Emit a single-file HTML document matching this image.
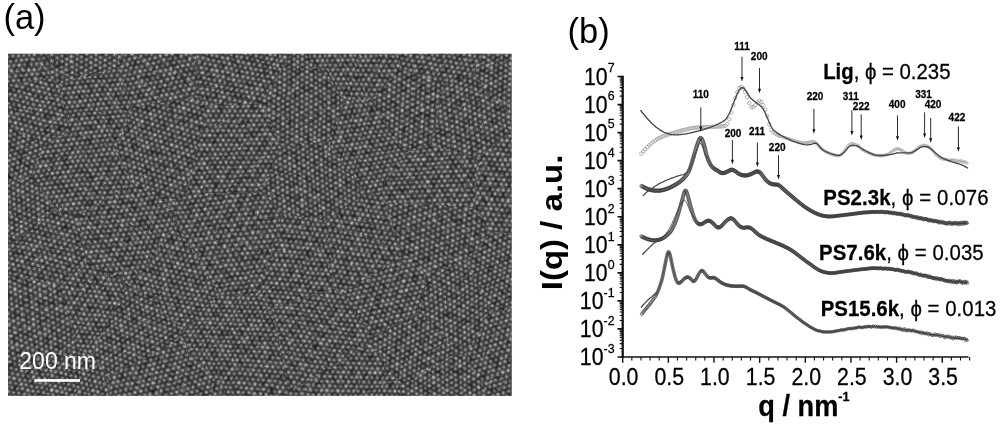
<!DOCTYPE html>
<html><head><meta charset="utf-8"><title>Figure</title>
<style>
html,body{margin:0;padding:0;background:#fff;}
body{width:1000px;height:426px;overflow:hidden;font-family:"Liberation Sans",sans-serif;}
svg{display:block;font-family:"Liberation Sans",sans-serif;}
</style></head><body>
<svg width="1000" height="426" viewBox="0 0 1000 426">
<defs>
<filter id="bl" x="0" y="40" width="520" height="370" filterUnits="userSpaceOnUse" color-interpolation-filters="sRGB"><feTurbulence type="fractalNoise" baseFrequency="0.009" numOctaves="1" seed="4" result="t1"/><feDisplacementMap in="SourceGraphic" in2="t1" scale="14" xChannelSelector="R" yChannelSelector="G" result="d1"/><feTurbulence type="fractalNoise" baseFrequency="0.11" numOctaves="1" seed="9" result="t2"/><feDisplacementMap in="d1" in2="t2" scale="1.3" xChannelSelector="R" yChannelSelector="G" result="d2"/><feTurbulence type="fractalNoise" baseFrequency="0.16" numOctaves="2" seed="21" result="t3"/><feColorMatrix in="t3" type="matrix" values="1 0 0 0 0 1 0 0 0 0 1 0 0 0 0 0 0 0 0 1" result="n"/><feComposite in="d2" in2="n" operator="arithmetic" k1="0.9" k2="0.59" k3="0.1" k4="-0.06"/></filter>
<clipPath id="semclip"><rect x="8.1" y="53.7" width="503.5" height="342.1"/></clipPath>
<radialGradient id="dg"><stop offset="0" stop-color="#959595" stop-opacity="1"/><stop offset="0.3" stop-color="#959595" stop-opacity="0.9"/><stop offset="0.6" stop-color="#959595" stop-opacity="0.4"/><stop offset="0.85" stop-color="#959595" stop-opacity="0.08"/><stop offset="1" stop-color="#959595" stop-opacity="0"/></radialGradient>
<pattern id="p0" width="5.400" height="9.353" patternUnits="userSpaceOnUse" patternTransform="translate(235.2 243.7) rotate(55.5)"><g fill="url(#dg)"><circle cx="0" cy="0" r="2.6"/><circle cx="5.400" cy="0" r="2.6"/><circle cx="0" cy="9.353" r="2.6"/><circle cx="5.400" cy="9.353" r="2.6"/><circle cx="2.700" cy="4.677" r="2.6"/></g></pattern>
<pattern id="p1" width="5.400" height="9.353" patternUnits="userSpaceOnUse" patternTransform="translate(305.4 110.6) rotate(30.7)"><g fill="url(#dg)"><circle cx="0" cy="0" r="2.6"/><circle cx="5.400" cy="0" r="2.6"/><circle cx="0" cy="9.353" r="2.6"/><circle cx="5.400" cy="9.353" r="2.6"/><circle cx="2.700" cy="4.677" r="2.6"/></g></pattern>
<pattern id="p2" width="5.400" height="9.353" patternUnits="userSpaceOnUse" patternTransform="translate(327.5 326.5) rotate(5.6)"><g fill="url(#dg)"><circle cx="0" cy="0" r="2.6"/><circle cx="5.400" cy="0" r="2.6"/><circle cx="0" cy="9.353" r="2.6"/><circle cx="5.400" cy="9.353" r="2.6"/><circle cx="2.700" cy="4.677" r="2.6"/></g></pattern>
<pattern id="p3" width="5.400" height="9.353" patternUnits="userSpaceOnUse" patternTransform="translate(157.8 77.2) rotate(48.6)"><g fill="url(#dg)"><circle cx="0" cy="0" r="2.6"/><circle cx="5.400" cy="0" r="2.6"/><circle cx="0" cy="9.353" r="2.6"/><circle cx="5.400" cy="9.353" r="2.6"/><circle cx="2.700" cy="4.677" r="2.6"/></g></pattern>
<pattern id="p4" width="5.400" height="9.353" patternUnits="userSpaceOnUse" patternTransform="translate(360.6 59.9) rotate(58.9)"><g fill="url(#dg)"><circle cx="0" cy="0" r="2.6"/><circle cx="5.400" cy="0" r="2.6"/><circle cx="0" cy="9.353" r="2.6"/><circle cx="5.400" cy="9.353" r="2.6"/><circle cx="2.700" cy="4.677" r="2.6"/></g></pattern>
<pattern id="p5" width="5.400" height="9.353" patternUnits="userSpaceOnUse" patternTransform="translate(501.7 277.1) rotate(36.9)"><g fill="url(#dg)"><circle cx="0" cy="0" r="2.6"/><circle cx="5.400" cy="0" r="2.6"/><circle cx="0" cy="9.353" r="2.6"/><circle cx="5.400" cy="9.353" r="2.6"/><circle cx="2.700" cy="4.677" r="2.6"/></g></pattern>
<pattern id="p6" width="5.400" height="9.353" patternUnits="userSpaceOnUse" patternTransform="translate(81.9 50.3) rotate(31.7)"><g fill="url(#dg)"><circle cx="0" cy="0" r="2.6"/><circle cx="5.400" cy="0" r="2.6"/><circle cx="0" cy="9.353" r="2.6"/><circle cx="5.400" cy="9.353" r="2.6"/><circle cx="2.700" cy="4.677" r="2.6"/></g></pattern>
<pattern id="p7" width="5.400" height="9.353" patternUnits="userSpaceOnUse" patternTransform="translate(31 112.5) rotate(14.5)"><g fill="url(#dg)"><circle cx="0" cy="0" r="2.6"/><circle cx="5.400" cy="0" r="2.6"/><circle cx="0" cy="9.353" r="2.6"/><circle cx="5.400" cy="9.353" r="2.6"/><circle cx="2.700" cy="4.677" r="2.6"/></g></pattern>
<pattern id="p8" width="5.400" height="9.353" patternUnits="userSpaceOnUse" patternTransform="translate(15.6 209.7) rotate(26.4)"><g fill="url(#dg)"><circle cx="0" cy="0" r="2.6"/><circle cx="5.400" cy="0" r="2.6"/><circle cx="0" cy="9.353" r="2.6"/><circle cx="5.400" cy="9.353" r="2.6"/><circle cx="2.700" cy="4.677" r="2.6"/></g></pattern>
<pattern id="p9" width="5.400" height="9.353" patternUnits="userSpaceOnUse" patternTransform="translate(438.1 229.3) rotate(38.4)"><g fill="url(#dg)"><circle cx="0" cy="0" r="2.6"/><circle cx="5.400" cy="0" r="2.6"/><circle cx="0" cy="9.353" r="2.6"/><circle cx="5.400" cy="9.353" r="2.6"/><circle cx="2.700" cy="4.677" r="2.6"/></g></pattern>
<pattern id="p10" width="5.400" height="9.353" patternUnits="userSpaceOnUse" patternTransform="translate(237.8 143.7) rotate(59.9)"><g fill="url(#dg)"><circle cx="0" cy="0" r="2.6"/><circle cx="5.400" cy="0" r="2.6"/><circle cx="0" cy="9.353" r="2.6"/><circle cx="5.400" cy="9.353" r="2.6"/><circle cx="2.700" cy="4.677" r="2.6"/></g></pattern>
<pattern id="p11" width="5.400" height="9.353" patternUnits="userSpaceOnUse" patternTransform="translate(517.8 343.3) rotate(42.5)"><g fill="url(#dg)"><circle cx="0" cy="0" r="2.6"/><circle cx="5.400" cy="0" r="2.6"/><circle cx="0" cy="9.353" r="2.6"/><circle cx="5.400" cy="9.353" r="2.6"/><circle cx="2.700" cy="4.677" r="2.6"/></g></pattern>
<pattern id="p12" width="5.400" height="9.353" patternUnits="userSpaceOnUse" patternTransform="translate(163.9 126.5) rotate(17.3)"><g fill="url(#dg)"><circle cx="0" cy="0" r="2.6"/><circle cx="5.400" cy="0" r="2.6"/><circle cx="0" cy="9.353" r="2.6"/><circle cx="5.400" cy="9.353" r="2.6"/><circle cx="2.700" cy="4.677" r="2.6"/></g></pattern>
<pattern id="p13" width="5.400" height="9.353" patternUnits="userSpaceOnUse" patternTransform="translate(36.5 317) rotate(24)"><g fill="url(#dg)"><circle cx="0" cy="0" r="2.6"/><circle cx="5.400" cy="0" r="2.6"/><circle cx="0" cy="9.353" r="2.6"/><circle cx="5.400" cy="9.353" r="2.6"/><circle cx="2.700" cy="4.677" r="2.6"/></g></pattern>
<pattern id="p14" width="5.400" height="9.353" patternUnits="userSpaceOnUse" patternTransform="translate(440.2 182.2) rotate(57.5)"><g fill="url(#dg)"><circle cx="0" cy="0" r="2.6"/><circle cx="5.400" cy="0" r="2.6"/><circle cx="0" cy="9.353" r="2.6"/><circle cx="5.400" cy="9.353" r="2.6"/><circle cx="2.700" cy="4.677" r="2.6"/></g></pattern>
<pattern id="p15" width="5.400" height="9.353" patternUnits="userSpaceOnUse" patternTransform="translate(440.6 45.2) rotate(12.6)"><g fill="url(#dg)"><circle cx="0" cy="0" r="2.6"/><circle cx="5.400" cy="0" r="2.6"/><circle cx="0" cy="9.353" r="2.6"/><circle cx="5.400" cy="9.353" r="2.6"/><circle cx="2.700" cy="4.677" r="2.6"/></g></pattern>
<pattern id="p16" width="5.400" height="9.353" patternUnits="userSpaceOnUse" patternTransform="translate(509.8 186.1) rotate(4.4)"><g fill="url(#dg)"><circle cx="0" cy="0" r="2.6"/><circle cx="5.400" cy="0" r="2.6"/><circle cx="0" cy="9.353" r="2.6"/><circle cx="5.400" cy="9.353" r="2.6"/><circle cx="2.700" cy="4.677" r="2.6"/></g></pattern>
<pattern id="p17" width="5.400" height="9.353" patternUnits="userSpaceOnUse" patternTransform="translate(172.9 387.2) rotate(45.5)"><g fill="url(#dg)"><circle cx="0" cy="0" r="2.6"/><circle cx="5.400" cy="0" r="2.6"/><circle cx="0" cy="9.353" r="2.6"/><circle cx="5.400" cy="9.353" r="2.6"/><circle cx="2.700" cy="4.677" r="2.6"/></g></pattern>
<pattern id="p18" width="5.400" height="9.353" patternUnits="userSpaceOnUse" patternTransform="translate(414.5 108.1) rotate(33.6)"><g fill="url(#dg)"><circle cx="0" cy="0" r="2.6"/><circle cx="5.400" cy="0" r="2.6"/><circle cx="0" cy="9.353" r="2.6"/><circle cx="5.400" cy="9.353" r="2.6"/><circle cx="2.700" cy="4.677" r="2.6"/></g></pattern>
<pattern id="p19" width="5.400" height="9.353" patternUnits="userSpaceOnUse" patternTransform="translate(460.1 119.8) rotate(23.7)"><g fill="url(#dg)"><circle cx="0" cy="0" r="2.6"/><circle cx="5.400" cy="0" r="2.6"/><circle cx="0" cy="9.353" r="2.6"/><circle cx="5.400" cy="9.353" r="2.6"/><circle cx="2.700" cy="4.677" r="2.6"/></g></pattern>
<pattern id="p20" width="5.400" height="9.353" patternUnits="userSpaceOnUse" patternTransform="translate(52.2 396.2) rotate(12.8)"><g fill="url(#dg)"><circle cx="0" cy="0" r="2.6"/><circle cx="5.400" cy="0" r="2.6"/><circle cx="0" cy="9.353" r="2.6"/><circle cx="5.400" cy="9.353" r="2.6"/><circle cx="2.700" cy="4.677" r="2.6"/></g></pattern>
<pattern id="p21" width="5.400" height="9.353" patternUnits="userSpaceOnUse" patternTransform="translate(134.3 319.3) rotate(19.7)"><g fill="url(#dg)"><circle cx="0" cy="0" r="2.6"/><circle cx="5.400" cy="0" r="2.6"/><circle cx="0" cy="9.353" r="2.6"/><circle cx="5.400" cy="9.353" r="2.6"/><circle cx="2.700" cy="4.677" r="2.6"/></g></pattern>
<pattern id="p22" width="5.400" height="9.353" patternUnits="userSpaceOnUse" patternTransform="translate(46.9 251.9) rotate(14.6)"><g fill="url(#dg)"><circle cx="0" cy="0" r="2.6"/><circle cx="5.400" cy="0" r="2.6"/><circle cx="0" cy="9.353" r="2.6"/><circle cx="5.400" cy="9.353" r="2.6"/><circle cx="2.700" cy="4.677" r="2.6"/></g></pattern>
<pattern id="p23" width="5.400" height="9.353" patternUnits="userSpaceOnUse" patternTransform="translate(312.7 177) rotate(27.2)"><g fill="url(#dg)"><circle cx="0" cy="0" r="2.6"/><circle cx="5.400" cy="0" r="2.6"/><circle cx="0" cy="9.353" r="2.6"/><circle cx="5.400" cy="9.353" r="2.6"/><circle cx="2.700" cy="4.677" r="2.6"/></g></pattern>
<pattern id="p24" width="5.400" height="9.353" patternUnits="userSpaceOnUse" patternTransform="translate(95.1 99.7) rotate(54.5)"><g fill="url(#dg)"><circle cx="0" cy="0" r="2.6"/><circle cx="5.400" cy="0" r="2.6"/><circle cx="0" cy="9.353" r="2.6"/><circle cx="5.400" cy="9.353" r="2.6"/><circle cx="2.700" cy="4.677" r="2.6"/></g></pattern>
<pattern id="p25" width="5.400" height="9.353" patternUnits="userSpaceOnUse" patternTransform="translate(366.4 136.2) rotate(49.4)"><g fill="url(#dg)"><circle cx="0" cy="0" r="2.6"/><circle cx="5.400" cy="0" r="2.6"/><circle cx="0" cy="9.353" r="2.6"/><circle cx="5.400" cy="9.353" r="2.6"/><circle cx="2.700" cy="4.677" r="2.6"/></g></pattern>
<pattern id="p26" width="5.400" height="9.353" patternUnits="userSpaceOnUse" patternTransform="translate(91.2 300.7) rotate(4.1)"><g fill="url(#dg)"><circle cx="0" cy="0" r="2.6"/><circle cx="5.400" cy="0" r="2.6"/><circle cx="0" cy="9.353" r="2.6"/><circle cx="5.400" cy="9.353" r="2.6"/><circle cx="2.700" cy="4.677" r="2.6"/></g></pattern>
<pattern id="p27" width="5.400" height="9.353" patternUnits="userSpaceOnUse" patternTransform="translate(118.8 243.6) rotate(51.1)"><g fill="url(#dg)"><circle cx="0" cy="0" r="2.6"/><circle cx="5.400" cy="0" r="2.6"/><circle cx="0" cy="9.353" r="2.6"/><circle cx="5.400" cy="9.353" r="2.6"/><circle cx="2.700" cy="4.677" r="2.6"/></g></pattern>
<pattern id="p28" width="5.400" height="9.353" patternUnits="userSpaceOnUse" patternTransform="translate(231.8 66.5) rotate(10.6)"><g fill="url(#dg)"><circle cx="0" cy="0" r="2.6"/><circle cx="5.400" cy="0" r="2.6"/><circle cx="0" cy="9.353" r="2.6"/><circle cx="5.400" cy="9.353" r="2.6"/><circle cx="2.700" cy="4.677" r="2.6"/></g></pattern>
<pattern id="p29" width="5.400" height="9.353" patternUnits="userSpaceOnUse" patternTransform="translate(68.4 173.6) rotate(53.5)"><g fill="url(#dg)"><circle cx="0" cy="0" r="2.6"/><circle cx="5.400" cy="0" r="2.6"/><circle cx="0" cy="9.353" r="2.6"/><circle cx="5.400" cy="9.353" r="2.6"/><circle cx="2.700" cy="4.677" r="2.6"/></g></pattern>
<pattern id="p30" width="5.400" height="9.353" patternUnits="userSpaceOnUse" patternTransform="translate(359.4 252.5) rotate(8.4)"><g fill="url(#dg)"><circle cx="0" cy="0" r="2.6"/><circle cx="5.400" cy="0" r="2.6"/><circle cx="0" cy="9.353" r="2.6"/><circle cx="5.400" cy="9.353" r="2.6"/><circle cx="2.700" cy="4.677" r="2.6"/></g></pattern>
<pattern id="p31" width="5.400" height="9.353" patternUnits="userSpaceOnUse" patternTransform="translate(18.2 51.4) rotate(54.6)"><g fill="url(#dg)"><circle cx="0" cy="0" r="2.6"/><circle cx="5.400" cy="0" r="2.6"/><circle cx="0" cy="9.353" r="2.6"/><circle cx="5.400" cy="9.353" r="2.6"/><circle cx="2.700" cy="4.677" r="2.6"/></g></pattern>
<pattern id="p32" width="5.400" height="9.353" patternUnits="userSpaceOnUse" patternTransform="translate(364.5 386.8) rotate(1.3)"><g fill="url(#dg)"><circle cx="0" cy="0" r="2.6"/><circle cx="5.400" cy="0" r="2.6"/><circle cx="0" cy="9.353" r="2.6"/><circle cx="5.400" cy="9.353" r="2.6"/><circle cx="2.700" cy="4.677" r="2.6"/></g></pattern>
<pattern id="p33" width="5.400" height="9.353" patternUnits="userSpaceOnUse" patternTransform="translate(519.7 71.7) rotate(32.8)"><g fill="url(#dg)"><circle cx="0" cy="0" r="2.6"/><circle cx="5.400" cy="0" r="2.6"/><circle cx="0" cy="9.353" r="2.6"/><circle cx="5.400" cy="9.353" r="2.6"/><circle cx="2.700" cy="4.677" r="2.6"/></g></pattern>
<pattern id="p34" width="5.400" height="9.353" patternUnits="userSpaceOnUse" patternTransform="translate(383.3 294.8) rotate(47.6)"><g fill="url(#dg)"><circle cx="0" cy="0" r="2.6"/><circle cx="5.400" cy="0" r="2.6"/><circle cx="0" cy="9.353" r="2.6"/><circle cx="5.400" cy="9.353" r="2.6"/><circle cx="2.700" cy="4.677" r="2.6"/></g></pattern>
<pattern id="p35" width="5.400" height="9.353" patternUnits="userSpaceOnUse" patternTransform="translate(411.1 351.5) rotate(34.4)"><g fill="url(#dg)"><circle cx="0" cy="0" r="2.6"/><circle cx="5.400" cy="0" r="2.6"/><circle cx="0" cy="9.353" r="2.6"/><circle cx="5.400" cy="9.353" r="2.6"/><circle cx="2.700" cy="4.677" r="2.6"/></g></pattern>
<pattern id="p36" width="5.400" height="9.353" patternUnits="userSpaceOnUse" patternTransform="translate(303 261.1) rotate(4.8)"><g fill="url(#dg)"><circle cx="0" cy="0" r="2.6"/><circle cx="5.400" cy="0" r="2.6"/><circle cx="0" cy="9.353" r="2.6"/><circle cx="5.400" cy="9.353" r="2.6"/><circle cx="2.700" cy="4.677" r="2.6"/></g></pattern>
<pattern id="p37" width="5.400" height="9.353" patternUnits="userSpaceOnUse" patternTransform="translate(457.5 303.5) rotate(23.3)"><g fill="url(#dg)"><circle cx="0" cy="0" r="2.6"/><circle cx="5.400" cy="0" r="2.6"/><circle cx="0" cy="9.353" r="2.6"/><circle cx="5.400" cy="9.353" r="2.6"/><circle cx="2.700" cy="4.677" r="2.6"/></g></pattern>
<pattern id="p38" width="5.400" height="9.353" patternUnits="userSpaceOnUse" patternTransform="translate(229.1 342.6) rotate(5)"><g fill="url(#dg)"><circle cx="0" cy="0" r="2.6"/><circle cx="5.400" cy="0" r="2.6"/><circle cx="0" cy="9.353" r="2.6"/><circle cx="5.400" cy="9.353" r="2.6"/><circle cx="2.700" cy="4.677" r="2.6"/></g></pattern>
<pattern id="p39" width="5.400" height="9.353" patternUnits="userSpaceOnUse" patternTransform="translate(5.9 151.9) rotate(40.7)"><g fill="url(#dg)"><circle cx="0" cy="0" r="2.6"/><circle cx="5.400" cy="0" r="2.6"/><circle cx="0" cy="9.353" r="2.6"/><circle cx="5.400" cy="9.353" r="2.6"/><circle cx="2.700" cy="4.677" r="2.6"/></g></pattern>
<pattern id="p40" width="5.400" height="9.353" patternUnits="userSpaceOnUse" patternTransform="translate(170 281.4) rotate(11.9)"><g fill="url(#dg)"><circle cx="0" cy="0" r="2.6"/><circle cx="5.400" cy="0" r="2.6"/><circle cx="0" cy="9.353" r="2.6"/><circle cx="5.400" cy="9.353" r="2.6"/><circle cx="2.700" cy="4.677" r="2.6"/></g></pattern>
<pattern id="p41" width="5.400" height="9.353" patternUnits="userSpaceOnUse" patternTransform="translate(436.3 393.6) rotate(27.1)"><g fill="url(#dg)"><circle cx="0" cy="0" r="2.6"/><circle cx="5.400" cy="0" r="2.6"/><circle cx="0" cy="9.353" r="2.6"/><circle cx="5.400" cy="9.353" r="2.6"/><circle cx="2.700" cy="4.677" r="2.6"/></g></pattern>
</defs>
<g clip-path="url(#semclip)"><rect x="8.1" y="53.7" width="503.5" height="342.1" fill="#3b3b3b"/><g filter="url(#bl)"><rect x="0" y="40" width="520" height="370" fill="#3b3b3b"/>
<polygon points="177.0,218.3 177.0,198.8 187.5,192.4 260.1,194.3 278.5,215.7 258.2,294.8 219.9,292.4" fill="url(#p0)"/>
<polygon points="291.3,50.7 301.3,50.7 346.0,99.4 328.2,141.7 281.2,146.9 259.9,103.2" fill="url(#p1)"/>
<polygon points="274.2,309.2 335.7,286.1 343.4,289.5 370.1,336.5 368.1,343.1 287.8,392.4" fill="url(#p2)"/>
<polygon points="124.5,50.7 191.7,50.7 198.5,97.2 132.5,105.4 118.7,66.9" fill="url(#p3)"/>
<polygon points="301.3,50.7 400.3,50.7 403.2,66.5 375.8,97.1 346.0,99.4" fill="url(#p4)"/>
<polygon points="514.6,232.4 514.6,309.0 493.8,314.1 463.0,262.4 487.4,230.0" fill="url(#p5)"/>
<polygon points="50.0,50.7 124.5,50.7 118.7,66.9 58.4,83.0 50.5,76.5" fill="url(#p6)"/>
<polygon points="50.5,76.5 58.4,83.0 68.2,131.7 42.4,147.5 5.1,123.7 5.1,86.0" fill="url(#p7)"/>
<polygon points="5.1,250.2 5.1,181.7 32.1,177.2 56.1,212.3" fill="url(#p8)"/>
<polygon points="487.4,230.0 463.0,262.4 423.5,272.8 403.1,255.7 387.7,203.5 473.7,207.3" fill="url(#p9)"/>
<polygon points="259.9,103.2 281.2,146.9 260.1,194.3 187.5,192.4 207.3,107.2" fill="url(#p10)"/>
<polygon points="514.6,309.0 514.6,398.8 495.8,398.8 467.8,353.5 493.8,314.1" fill="url(#p11)"/>
<polygon points="187.5,192.4 177.0,198.8 131.6,181.3 115.6,148.9 132.5,105.4 198.5,97.2 207.3,107.2" fill="url(#p12)"/>
<polygon points="76.2,350.3 5.1,364.4 5.1,278.6 57.3,286.9" fill="url(#p13)"/>
<polygon points="473.7,207.3 387.7,203.5 380.7,195.4 407.8,151.9 429.5,144.4 476.4,159.4" fill="url(#p14)"/>
<polygon points="400.3,50.7 482.7,50.7 474.2,76.3 445.0,83.9 403.2,66.5" fill="url(#p15)"/>
<polygon points="514.6,130.7 514.6,232.4 487.4,230.0 473.7,207.3 476.4,159.4" fill="url(#p16)"/>
<polygon points="227.9,398.8 113.1,398.8 111.5,377.2 179.9,338.3" fill="url(#p17)"/>
<polygon points="429.5,144.4 407.8,151.9 375.8,97.1 403.2,66.5 445.0,83.9" fill="url(#p18)"/>
<polygon points="514.6,126.4 514.6,130.7 476.4,159.4 429.5,144.4 445.0,83.9 474.2,76.3" fill="url(#p19)"/>
<polygon points="113.1,398.8 5.1,398.8 5.1,364.4 76.2,350.3 92.5,356.9 111.5,377.2" fill="url(#p20)"/>
<polygon points="182.3,328.7 179.9,338.3 111.5,377.2 92.5,356.9 124.9,281.8 131.1,280.5" fill="url(#p21)"/>
<polygon points="57.3,286.9 5.1,278.6 5.1,250.2 56.1,212.3 79.5,218.8 84.5,262.3" fill="url(#p22)"/>
<polygon points="278.5,215.7 260.1,194.3 281.2,146.9 328.2,141.7 368.5,194.7 325.8,221.1" fill="url(#p23)"/>
<polygon points="118.7,66.9 132.5,105.4 115.6,148.9 68.2,131.7 58.4,83.0" fill="url(#p24)"/>
<polygon points="368.5,194.7 328.2,141.7 346.0,99.4 375.8,97.1 407.8,151.9 380.7,195.4" fill="url(#p25)"/>
<polygon points="124.9,281.8 92.5,356.9 76.2,350.3 57.3,286.9 84.5,262.3" fill="url(#p26)"/>
<polygon points="177.0,198.8 177.0,218.3 131.1,280.5 124.9,281.8 84.5,262.3 79.5,218.8 131.6,181.3" fill="url(#p27)"/>
<polygon points="191.7,50.7 291.3,50.7 259.9,103.2 207.3,107.2 198.5,97.2" fill="url(#p28)"/>
<polygon points="79.5,218.8 56.1,212.3 32.1,177.2 42.4,147.5 68.2,131.7 115.6,148.9 131.6,181.3" fill="url(#p29)"/>
<polygon points="343.4,289.5 335.7,286.1 325.8,221.1 368.5,194.7 380.7,195.4 387.7,203.5 403.1,255.7" fill="url(#p30)"/>
<polygon points="5.1,50.7 50.0,50.7 50.5,76.5 5.1,86.0" fill="url(#p31)"/>
<polygon points="399.6,398.8 285.7,398.8 287.8,392.4 368.1,343.1 400.8,386.3" fill="url(#p32)"/>
<polygon points="482.7,50.7 514.6,50.7 514.6,126.4 474.2,76.3" fill="url(#p33)"/>
<polygon points="370.1,336.5 343.4,289.5 403.1,255.7 423.5,272.8 418.8,312.5" fill="url(#p34)"/>
<polygon points="400.8,386.3 368.1,343.1 370.1,336.5 418.8,312.5 459.0,351.4" fill="url(#p35)"/>
<polygon points="335.7,286.1 274.2,309.2 258.2,294.8 278.5,215.7 325.8,221.1" fill="url(#p36)"/>
<polygon points="423.5,272.8 463.0,262.4 493.8,314.1 467.8,353.5 459.0,351.4 418.8,312.5" fill="url(#p37)"/>
<polygon points="285.7,398.8 227.9,398.8 179.9,338.3 182.3,328.7 219.9,292.4 258.2,294.8 274.2,309.2 287.8,392.4" fill="url(#p38)"/>
<polygon points="5.1,181.7 5.1,123.7 42.4,147.5 32.1,177.2" fill="url(#p39)"/>
<polygon points="177.0,218.3 219.9,292.4 182.3,328.7 131.1,280.5" fill="url(#p40)"/>
<polygon points="495.8,398.8 399.6,398.8 400.8,386.3 459.0,351.4 467.8,353.5" fill="url(#p41)"/>
</g></g>
<text x="3.4" y="29" font-size="34.5" fill="#000">(a)</text>
<text x="19.3" y="369.3" font-size="23" fill="#fff">200 nm</text>
<rect x="34.3" y="379.1" width="45.7" height="2.7" fill="#fff"/>
<g id="chart">
<g fill="none" stroke="#868686" stroke-width="0.6"><circle cx="641.3" cy="153.6" r="1.75"/><circle cx="643.3" cy="151.4" r="1.75"/><circle cx="645.3" cy="149.2" r="1.75"/><circle cx="647.3" cy="147.2" r="1.75"/><circle cx="649.3" cy="145.3" r="1.75"/><circle cx="651.3" cy="143.5" r="1.75"/><circle cx="653.3" cy="141.8" r="1.75"/><circle cx="655.3" cy="140.4" r="1.75"/><circle cx="657.3" cy="139.1" r="1.75"/><circle cx="659.3" cy="138.0" r="1.75"/><circle cx="661.3" cy="137.1" r="1.75"/><circle cx="663.3" cy="136.2" r="1.75"/><circle cx="665.3" cy="135.4" r="1.75"/><circle cx="667.3" cy="134.7" r="1.75"/><circle cx="669.3" cy="134.1" r="1.75"/><circle cx="671.3" cy="133.5" r="1.75"/><circle cx="673.3" cy="133.0" r="1.75"/><circle cx="675.3" cy="132.4" r="1.75"/><circle cx="677.3" cy="131.8" r="1.75"/><circle cx="679.3" cy="131.2" r="1.75"/><circle cx="681.3" cy="130.6" r="1.75"/><circle cx="683.3" cy="130.1" r="1.75"/><circle cx="685.3" cy="129.6" r="1.75"/><circle cx="687.3" cy="129.1" r="1.75"/><circle cx="689.3" cy="128.7" r="1.75"/><circle cx="691.3" cy="128.3" r="1.75"/><circle cx="693.3" cy="128.0" r="1.75"/><circle cx="695.3" cy="127.7" r="1.75"/><circle cx="697.3" cy="127.5" r="1.75"/><circle cx="699.3" cy="127.4" r="1.75"/><circle cx="701.3" cy="127.3" r="1.75"/><circle cx="703.3" cy="127.2" r="1.75"/><circle cx="705.3" cy="127.1" r="1.75"/><circle cx="707.3" cy="127.0" r="1.75"/><circle cx="709.3" cy="126.9" r="1.75"/><circle cx="711.3" cy="126.9" r="1.75"/><circle cx="713.3" cy="126.8" r="1.75"/><circle cx="715.3" cy="126.7" r="1.75"/><circle cx="717.3" cy="126.6" r="1.75"/><circle cx="719.3" cy="126.5" r="1.75"/><circle cx="721.3" cy="126.5" r="1.75"/><circle cx="723.3" cy="126.3" r="1.75"/><circle cx="725.3" cy="125.8" r="1.75"/><circle cx="727.3" cy="123.8" r="1.75"/><circle cx="729.3" cy="119.1" r="1.75"/><circle cx="731.3" cy="112.5" r="1.75"/><circle cx="733.3" cy="105.1" r="1.75"/><circle cx="735.3" cy="98.0" r="1.75"/><circle cx="737.3" cy="92.2" r="1.75"/><circle cx="739.3" cy="88.0" r="1.75"/><circle cx="741.3" cy="87.0" r="1.75"/><circle cx="743.3" cy="88.5" r="1.75"/><circle cx="745.3" cy="92.1" r="1.75"/><circle cx="747.3" cy="97.2" r="1.75"/><circle cx="749.3" cy="103.0" r="1.75"/><circle cx="751.3" cy="107.2" r="1.75"/><circle cx="753.3" cy="107.1" r="1.75"/><circle cx="755.3" cy="105.1" r="1.75"/><circle cx="757.3" cy="102.4" r="1.75"/><circle cx="759.3" cy="100.9" r="1.75"/><circle cx="761.3" cy="102.0" r="1.75"/><circle cx="763.3" cy="105.1" r="1.75"/><circle cx="765.3" cy="109.5" r="1.75"/><circle cx="767.3" cy="116.1" r="1.75"/><circle cx="769.3" cy="124.4" r="1.75"/><circle cx="771.3" cy="129.9" r="1.75"/><circle cx="773.3" cy="132.2" r="1.75"/><circle cx="775.3" cy="133.5" r="1.75"/><circle cx="777.3" cy="134.6" r="1.75"/><circle cx="779.3" cy="135.6" r="1.75"/></g>
<g fill="none" stroke="#9a9a9a" stroke-width="0.45"><circle cx="780.1" cy="136.0" r="1.25"/><circle cx="781.0" cy="136.3" r="1.25"/><circle cx="781.9" cy="136.6" r="1.25"/><circle cx="782.8" cy="136.9" r="1.25"/><circle cx="783.7" cy="137.2" r="1.25"/><circle cx="784.6" cy="137.5" r="1.25"/><circle cx="785.5" cy="137.8" r="1.25"/><circle cx="786.4" cy="138.1" r="1.25"/><circle cx="787.3" cy="138.4" r="1.25"/><circle cx="788.2" cy="138.7" r="1.25"/><circle cx="789.1" cy="139.0" r="1.25"/><circle cx="790.0" cy="139.3" r="1.25"/><circle cx="790.9" cy="139.6" r="1.25"/><circle cx="791.8" cy="139.9" r="1.25"/><circle cx="792.7" cy="140.2" r="1.25"/><circle cx="793.6" cy="140.4" r="1.25"/><circle cx="794.5" cy="140.7" r="1.25"/><circle cx="795.4" cy="141.0" r="1.25"/><circle cx="796.3" cy="141.3" r="1.25"/><circle cx="797.2" cy="141.5" r="1.25"/><circle cx="798.1" cy="141.8" r="1.25"/><circle cx="799.0" cy="142.0" r="1.25"/><circle cx="799.9" cy="142.3" r="1.25"/><circle cx="800.8" cy="142.5" r="1.25"/><circle cx="801.7" cy="142.7" r="1.25"/><circle cx="802.6" cy="142.9" r="1.25"/><circle cx="803.5" cy="143.0" r="1.25"/><circle cx="804.4" cy="143.1" r="1.25"/><circle cx="805.3" cy="143.0" r="1.25"/><circle cx="806.2" cy="142.8" r="1.25"/><circle cx="807.1" cy="142.5" r="1.25"/><circle cx="808.0" cy="142.3" r="1.25"/><circle cx="808.9" cy="142.1" r="1.25"/><circle cx="809.8" cy="141.9" r="1.25"/><circle cx="810.7" cy="141.7" r="1.25"/><circle cx="811.6" cy="141.6" r="1.25"/><circle cx="812.5" cy="141.5" r="1.25"/><circle cx="813.4" cy="141.6" r="1.25"/><circle cx="814.3" cy="141.9" r="1.25"/><circle cx="815.2" cy="142.4" r="1.25"/><circle cx="816.1" cy="143.1" r="1.25"/><circle cx="817.0" cy="144.0" r="1.25"/><circle cx="817.9" cy="145.1" r="1.25"/><circle cx="818.8" cy="146.1" r="1.25"/><circle cx="819.7" cy="147.0" r="1.25"/><circle cx="820.6" cy="147.8" r="1.25"/><circle cx="821.5" cy="148.6" r="1.25"/><circle cx="822.4" cy="149.3" r="1.25"/><circle cx="823.3" cy="150.0" r="1.25"/><circle cx="824.2" cy="150.6" r="1.25"/><circle cx="825.1" cy="151.2" r="1.25"/><circle cx="826.0" cy="151.7" r="1.25"/><circle cx="826.9" cy="152.2" r="1.25"/><circle cx="827.8" cy="152.6" r="1.25"/><circle cx="828.7" cy="153.0" r="1.25"/><circle cx="829.6" cy="153.4" r="1.25"/><circle cx="830.5" cy="153.8" r="1.25"/><circle cx="831.4" cy="154.2" r="1.25"/><circle cx="832.3" cy="154.5" r="1.25"/><circle cx="833.2" cy="154.8" r="1.25"/><circle cx="834.1" cy="155.0" r="1.25"/><circle cx="835.0" cy="155.2" r="1.25"/><circle cx="835.9" cy="155.4" r="1.25"/><circle cx="836.8" cy="155.5" r="1.25"/><circle cx="837.7" cy="155.6" r="1.25"/><circle cx="838.6" cy="155.6" r="1.25"/><circle cx="839.5" cy="155.5" r="1.25"/><circle cx="840.4" cy="155.2" r="1.25"/><circle cx="841.3" cy="154.7" r="1.25"/><circle cx="842.2" cy="153.8" r="1.25"/><circle cx="843.1" cy="152.9" r="1.25"/><circle cx="844.0" cy="151.7" r="1.25"/><circle cx="844.9" cy="150.3" r="1.25"/><circle cx="845.8" cy="148.9" r="1.25"/><circle cx="846.7" cy="147.8" r="1.25"/><circle cx="847.6" cy="146.7" r="1.25"/><circle cx="848.5" cy="145.7" r="1.25"/><circle cx="849.4" cy="144.8" r="1.25"/><circle cx="850.3" cy="144.1" r="1.25"/><circle cx="851.2" cy="143.7" r="1.25"/><circle cx="852.1" cy="143.6" r="1.25"/><circle cx="853.0" cy="143.8" r="1.25"/><circle cx="853.9" cy="144.1" r="1.25"/><circle cx="854.8" cy="144.4" r="1.25"/><circle cx="855.7" cy="144.7" r="1.25"/><circle cx="856.6" cy="145.0" r="1.25"/><circle cx="857.5" cy="145.4" r="1.25"/><circle cx="858.4" cy="145.9" r="1.25"/><circle cx="859.3" cy="146.7" r="1.25"/><circle cx="860.2" cy="147.7" r="1.25"/><circle cx="861.1" cy="148.6" r="1.25"/><circle cx="862.0" cy="149.3" r="1.25"/><circle cx="862.9" cy="149.9" r="1.25"/><circle cx="863.8" cy="150.4" r="1.25"/><circle cx="864.7" cy="150.9" r="1.25"/><circle cx="865.6" cy="151.4" r="1.25"/><circle cx="866.5" cy="151.8" r="1.25"/><circle cx="867.4" cy="152.2" r="1.25"/><circle cx="868.3" cy="152.6" r="1.25"/><circle cx="869.2" cy="153.0" r="1.25"/><circle cx="870.1" cy="153.4" r="1.25"/><circle cx="871.0" cy="153.8" r="1.25"/><circle cx="871.9" cy="154.2" r="1.25"/><circle cx="872.8" cy="154.5" r="1.25"/><circle cx="873.7" cy="154.8" r="1.25"/><circle cx="874.6" cy="155.0" r="1.25"/><circle cx="875.5" cy="155.2" r="1.25"/><circle cx="876.4" cy="155.4" r="1.25"/><circle cx="877.3" cy="155.5" r="1.25"/><circle cx="878.2" cy="155.6" r="1.25"/><circle cx="879.1" cy="155.6" r="1.25"/><circle cx="880.0" cy="155.6" r="1.25"/><circle cx="880.9" cy="155.6" r="1.25"/><circle cx="881.8" cy="155.6" r="1.25"/><circle cx="882.7" cy="155.5" r="1.25"/><circle cx="883.6" cy="155.4" r="1.25"/><circle cx="884.5" cy="155.3" r="1.25"/><circle cx="885.4" cy="155.1" r="1.25"/><circle cx="886.3" cy="154.9" r="1.25"/><circle cx="887.2" cy="154.6" r="1.25"/><circle cx="888.1" cy="154.2" r="1.25"/><circle cx="889.0" cy="153.6" r="1.25"/><circle cx="889.9" cy="153.0" r="1.25"/><circle cx="890.8" cy="152.3" r="1.25"/><circle cx="891.7" cy="151.7" r="1.25"/><circle cx="892.6" cy="151.1" r="1.25"/><circle cx="893.5" cy="150.5" r="1.25"/><circle cx="894.4" cy="149.9" r="1.25"/><circle cx="895.3" cy="149.4" r="1.25"/><circle cx="896.2" cy="149.0" r="1.25"/><circle cx="897.1" cy="148.8" r="1.25"/><circle cx="898.0" cy="148.8" r="1.25"/><circle cx="898.9" cy="149.1" r="1.25"/><circle cx="899.8" cy="149.4" r="1.25"/><circle cx="900.7" cy="149.9" r="1.25"/><circle cx="901.6" cy="150.3" r="1.25"/><circle cx="902.5" cy="150.8" r="1.25"/><circle cx="903.4" cy="151.3" r="1.25"/><circle cx="904.3" cy="152.1" r="1.25"/><circle cx="905.2" cy="152.7" r="1.25"/><circle cx="906.1" cy="153.0" r="1.25"/><circle cx="907.0" cy="153.2" r="1.25"/><circle cx="907.9" cy="153.3" r="1.25"/><circle cx="908.8" cy="153.3" r="1.25"/><circle cx="909.7" cy="153.4" r="1.25"/><circle cx="910.6" cy="153.0" r="1.25"/><circle cx="911.5" cy="152.8" r="1.25"/><circle cx="912.4" cy="152.4" r="1.25"/><circle cx="913.3" cy="151.8" r="1.25"/><circle cx="914.2" cy="151.2" r="1.25"/><circle cx="915.1" cy="150.5" r="1.25"/><circle cx="916.0" cy="149.8" r="1.25"/><circle cx="916.9" cy="149.1" r="1.25"/><circle cx="917.8" cy="148.2" r="1.25"/><circle cx="918.7" cy="147.4" r="1.25"/><circle cx="919.6" cy="146.7" r="1.25"/><circle cx="920.5" cy="146.3" r="1.25"/><circle cx="921.4" cy="146.1" r="1.25"/><circle cx="922.3" cy="145.9" r="1.25"/><circle cx="923.2" cy="145.3" r="1.25"/><circle cx="924.1" cy="145.2" r="1.25"/><circle cx="925.0" cy="145.7" r="1.25"/><circle cx="925.9" cy="145.9" r="1.25"/><circle cx="926.8" cy="145.9" r="1.25"/><circle cx="927.7" cy="146.5" r="1.25"/><circle cx="928.6" cy="147.0" r="1.25"/><circle cx="929.5" cy="147.4" r="1.25"/><circle cx="930.4" cy="148.5" r="1.25"/><circle cx="931.3" cy="148.8" r="1.25"/><circle cx="932.2" cy="150.0" r="1.25"/><circle cx="933.1" cy="151.0" r="1.25"/><circle cx="934.0" cy="151.9" r="1.25"/><circle cx="934.9" cy="153.7" r="1.25"/><circle cx="935.8" cy="153.9" r="1.25"/><circle cx="936.7" cy="155.3" r="1.25"/><circle cx="937.6" cy="155.6" r="1.25"/><circle cx="938.5" cy="156.7" r="1.25"/><circle cx="939.4" cy="157.4" r="1.25"/><circle cx="940.3" cy="157.7" r="1.25"/><circle cx="941.2" cy="158.4" r="1.25"/><circle cx="942.1" cy="158.7" r="1.25"/><circle cx="943.0" cy="158.8" r="1.25"/><circle cx="943.9" cy="159.5" r="1.25"/><circle cx="944.8" cy="159.1" r="1.25"/><circle cx="945.7" cy="159.3" r="1.25"/><circle cx="946.6" cy="159.7" r="1.25"/><circle cx="947.5" cy="159.8" r="1.25"/><circle cx="948.4" cy="159.7" r="1.25"/><circle cx="949.3" cy="160.6" r="1.25"/><circle cx="950.2" cy="160.6" r="1.25"/><circle cx="951.1" cy="159.9" r="1.25"/><circle cx="952.0" cy="160.2" r="1.25"/><circle cx="952.9" cy="160.1" r="1.25"/><circle cx="953.8" cy="160.4" r="1.25"/><circle cx="954.7" cy="160.2" r="1.25"/><circle cx="955.6" cy="160.6" r="1.25"/><circle cx="956.5" cy="161.2" r="1.25"/><circle cx="957.4" cy="160.6" r="1.25"/><circle cx="958.3" cy="161.0" r="1.25"/><circle cx="959.2" cy="161.1" r="1.25"/><circle cx="960.1" cy="161.4" r="1.25"/><circle cx="961.0" cy="160.6" r="1.25"/><circle cx="961.9" cy="161.7" r="1.25"/><circle cx="962.8" cy="162.2" r="1.25"/><circle cx="963.7" cy="161.8" r="1.25"/><circle cx="964.6" cy="161.6" r="1.25"/><circle cx="965.5" cy="162.4" r="1.25"/><circle cx="966.4" cy="162.8" r="1.25"/><circle cx="967.3" cy="163.2" r="1.25"/></g>
<path d="M640.8 110.6 L641.3 111.2 L641.8 111.9 L642.3 112.5 L642.8 113.2 L643.3 113.8 L643.9 114.4 L644.4 115.1 L644.9 115.7 L645.4 116.4 L646.0 117.0 L646.5 117.6 L647.0 118.2 L647.6 118.8 L648.1 119.4 L648.7 120.0 L649.2 120.6 L649.8 121.2 L650.3 121.8 L650.9 122.4 L651.5 123.0 L652.0 123.5 L652.7 124.1 L653.3 124.7 L654.0 125.3 L654.6 125.9 L655.3 126.4 L655.9 127.0 L656.6 127.5 L657.3 128.0 L658.0 128.5 L658.7 129.0 L659.3 129.4 L660.0 129.9 L660.7 130.3 L661.4 130.7 L662.1 131.2 L662.8 131.6 L663.6 131.9 L664.3 132.3 L665.0 132.6 L665.8 132.9 L666.6 133.2 L667.4 133.5 L668.3 133.7 L669.1 134.0 L669.9 134.2 L670.7 134.3 L671.6 134.5 L672.4 134.6 L673.2 134.7 L674.0 134.8 L674.8 134.8 L675.6 134.8 L676.4 134.8 L677.3 134.8 L678.1 134.7 L679.0 134.7 L680.0 134.6 L680.7 134.5 L681.5 134.4 L682.3 134.3 L683.1 134.2 L684.0 134.1 L684.8 134.0 L685.7 133.8 L686.5 133.7 L687.4 133.5 L688.3 133.3 L689.1 133.2 L690.0 133.0 L690.8 132.8 L691.6 132.7 L692.4 132.5 L693.2 132.3 L694.0 132.1 L694.8 131.9 L695.6 131.7 L696.4 131.5 L697.2 131.3 L698.0 131.1 L698.8 130.9 L699.6 130.7 L700.4 130.5 L701.2 130.3 L702.1 130.0 L702.9 129.8 L703.7 129.5 L704.5 129.3 L705.3 129.0 L706.2 128.7 L706.9 128.5 L707.7 128.2 L708.5 127.9 L709.3 127.7 L710.0 127.4 L710.9 127.1 L711.7 126.7 L712.6 126.4 L713.4 126.1 L714.2 125.7 L715.0 125.4 L715.7 125.1 L716.5 124.7 L717.3 124.4 L718.0 124.0 L718.8 123.6 L719.7 123.2 L720.5 122.8 L721.3 122.4 L722.1 122.0 L722.8 121.6 L723.5 121.1 L724.2 120.7 L724.8 120.2 L725.5 119.6 L726.1 118.9 L726.6 118.2 L727.1 117.5 L727.5 116.7 L728.0 115.9 L728.5 115.0 L728.9 114.3 L729.2 113.6 L729.6 112.8 L729.9 112.0 L730.3 111.2 L730.6 110.4 L731.0 109.6 L731.3 108.7 L731.7 107.9 L732.0 107.0 L732.3 106.3 L732.6 105.5 L732.9 104.8 L733.2 104.0 L733.5 103.2 L733.8 102.5 L734.0 101.7 L734.3 100.9 L734.6 100.2 L734.9 99.4 L735.2 98.7 L735.5 98.0 L735.9 97.2 L736.2 96.3 L736.5 95.5 L736.9 94.7 L737.2 93.9 L737.6 93.1 L738.0 92.4 L738.3 91.7 L738.6 91.1 L739.0 90.5 L739.7 89.5 L740.4 88.7 L741.1 88.1 L741.8 87.7 L742.5 87.6 L743.1 87.8 L743.6 88.1 L744.2 88.7 L744.8 89.4 L745.4 90.2 L746.0 91.0 L746.4 91.6 L746.8 92.2 L747.3 92.9 L747.7 93.7 L748.2 94.4 L748.6 95.2 L749.1 96.0 L749.6 96.7 L750.1 97.4 L750.6 98.0 L751.2 98.7 L751.9 99.3 L752.6 99.9 L753.3 100.4 L754.0 101.0 L754.7 101.5 L755.3 102.0 L756.0 102.5 L756.7 103.0 L757.3 103.5 L758.0 104.0 L758.7 104.4 L759.3 104.9 L760.0 105.4 L760.5 105.9 L761.1 106.4 L761.7 107.1 L762.2 107.7 L762.7 108.4 L763.2 109.2 L763.6 109.9 L764.1 110.7 L764.5 111.5 L764.9 112.2 L765.2 113.0 L765.6 113.7 L765.9 114.5 L766.2 115.3 L766.6 116.1 L767.0 117.0 L767.4 118.0 L767.7 118.6 L768.0 119.3 L768.3 120.1 L768.6 120.8 L768.9 121.6 L769.3 122.4 L769.6 123.2 L769.9 124.0 L770.3 124.8 L770.6 125.6 L771.0 126.3 L771.3 126.9 L771.7 127.5 L772.3 128.4 L772.8 129.1 L773.4 129.8 L774.0 130.4 L774.6 130.9 L775.2 131.5 L775.9 132.0 L776.5 132.5 L777.1 133.0 L777.7 133.4 L778.4 133.8 L779.0 134.2 L779.7 134.6 L780.4 135.0 L781.2 135.5 L782.2 136.0 L782.8 136.3 L783.5 136.7 L784.1 137.0 L784.9 137.4 L785.6 137.8 L786.4 138.2 L787.2 138.6 L788.0 139.0 L788.8 139.4 L789.6 139.8 L790.4 140.2 L791.2 140.5 L792.0 140.9 L792.8 141.2 L793.6 141.5 L794.5 141.8 L795.3 142.1 L796.2 142.4 L797.1 142.7 L798.0 143.0 L798.8 143.2 L799.7 143.5 L800.5 143.7 L801.3 143.9 L802.0 144.1 L802.7 144.3 L803.3 144.4 L804.6 144.7 L805.6 144.8 L806.5 144.8 L807.2 144.8 L808.0 144.8 L809.0 144.7 L810.0 144.6 L810.9 144.4 L811.8 144.2 L812.7 143.9 L813.5 143.6 L814.3 143.3 L815.0 143.2 L815.8 143.2 L816.6 143.4 L817.5 144.0 L818.0 144.5 L818.5 145.1 L819.1 145.8 L819.6 146.6 L820.2 147.3 L820.8 148.0 L821.3 148.6 L822.0 149.2 L822.6 149.7 L823.2 150.2 L823.8 150.6 L824.5 151.0 L825.3 151.4 L826.1 151.8 L826.9 152.1 L827.8 152.4 L828.7 152.8 L829.5 153.1 L830.4 153.4 L831.3 153.8 L832.2 154.1 L833.1 154.4 L834.0 154.6 L834.9 154.8 L835.8 155.0 L836.7 155.2 L837.6 155.3 L838.4 155.3 L839.2 155.3 L840.2 155.0 L841.0 154.6 L841.7 154.1 L842.5 153.5 L843.1 153.0 L843.8 152.5 L844.4 151.9 L845.0 151.3 L845.6 150.7 L846.2 150.0 L846.8 149.3 L847.3 148.5 L847.9 147.8 L848.5 147.2 L849.2 146.6 L850.0 146.2 L850.7 145.8 L851.5 145.6 L852.3 145.5 L853.2 145.4 L854.1 145.5 L855.0 145.6 L855.8 145.7 L856.6 145.9 L857.4 146.2 L858.2 146.5 L858.9 146.9 L859.6 147.3 L860.4 147.8 L861.2 148.3 L862.0 148.8 L862.7 149.2 L863.4 149.6 L864.1 150.1 L864.9 150.5 L865.7 151.0 L866.7 151.5 L867.4 151.8 L868.1 152.2 L868.9 152.5 L869.7 152.9 L870.5 153.3 L871.3 153.6 L872.2 154.0 L873.0 154.3 L873.8 154.6 L874.5 154.8 L875.4 155.0 L876.2 155.2 L877.0 155.3 L877.9 155.4 L878.6 155.4 L879.4 155.5 L880.2 155.5 L881.0 155.5 L881.9 155.5 L882.8 155.5 L883.7 155.4 L884.6 155.3 L885.5 155.2 L886.3 155.1 L887.2 155.0 L888.1 154.9 L888.9 154.8 L889.8 154.6 L890.6 154.5 L891.4 154.3 L892.2 154.2 L893.0 154.0 L893.8 153.8 L894.6 153.6 L895.4 153.4 L896.1 153.2 L896.9 153.0 L897.8 152.9 L898.6 152.8 L899.5 152.8 L900.3 152.8 L901.3 152.8 L902.2 152.8 L903.1 152.8 L904.0 152.8 L904.9 152.8 L905.9 152.8 L906.9 152.9 L907.8 152.9 L908.8 152.9 L909.6 152.9 L910.4 152.8 L911.5 152.6 L912.4 152.3 L913.2 151.9 L914.0 151.5 L914.7 151.1 L915.4 150.6 L916.0 150.1 L916.8 149.6 L917.4 149.2 L918.1 148.8 L918.8 148.3 L919.5 147.9 L920.3 147.5 L921.0 147.2 L921.9 146.9 L922.7 146.7 L923.6 146.6 L924.4 146.5 L925.2 146.5 L926.1 146.6 L926.9 146.7 L927.7 147.0 L928.5 147.3 L929.3 147.7 L930.0 148.3 L930.8 148.9 L931.6 149.6 L932.2 150.1 L932.8 150.6 L933.5 151.2 L934.1 151.8 L934.8 152.4 L935.5 153.0 L936.1 153.5 L936.7 154.0 L937.4 154.6 L938.0 155.1 L938.7 155.6 L939.3 156.1 L940.0 156.6 L940.7 157.0 L941.4 157.4 L942.1 157.8 L942.8 158.2 L943.5 158.5 L944.2 158.9 L945.0 159.2 L945.8 159.5 L946.6 159.8 L947.4 160.2 L948.2 160.5 L949.0 160.7 L949.8 161.0 L950.6 161.3 L951.4 161.6 L952.2 161.8 L952.9 162.1 L953.7 162.3 L954.5 162.5 L955.2 162.8 L956.0 163.0 L956.9 163.3 L957.8 163.5 L958.7 163.8 L959.5 164.1 L960.4 164.3 L961.1 164.6 L962.1 165.0 L962.9 165.4 L963.7 165.8 L964.5 166.2 L965.3 166.6 L966.0 167.1 L966.8 167.5 L967.5 168.0" fill="none" stroke="#444" stroke-width="1.35" stroke-linejoin="round" stroke-linecap="round"/>
<g fill="none" stroke="#333" stroke-width="0.5"><circle cx="641.5" cy="185.9" r="1.70"/><circle cx="642.2" cy="186.3" r="1.70"/><circle cx="642.8" cy="186.6" r="1.70"/><circle cx="643.5" cy="187.0" r="1.70"/><circle cx="644.1" cy="187.4" r="1.70"/><circle cx="644.8" cy="187.7" r="1.70"/><circle cx="645.5" cy="188.1" r="1.70"/><circle cx="646.1" cy="188.4" r="1.70"/><circle cx="646.8" cy="188.6" r="1.70"/><circle cx="647.4" cy="188.9" r="1.70"/><circle cx="648.1" cy="189.1" r="1.70"/><circle cx="648.8" cy="189.4" r="1.70"/><circle cx="649.4" cy="189.6" r="1.70"/><circle cx="650.1" cy="189.7" r="1.70"/><circle cx="650.7" cy="189.9" r="1.70"/><circle cx="651.4" cy="190.1" r="1.70"/><circle cx="652.1" cy="190.2" r="1.70"/><circle cx="652.7" cy="190.3" r="1.70"/><circle cx="653.4" cy="190.4" r="1.70"/><circle cx="654.0" cy="190.5" r="1.70"/><circle cx="654.7" cy="190.6" r="1.70"/><circle cx="655.4" cy="190.7" r="1.70"/><circle cx="656.0" cy="190.7" r="1.70"/><circle cx="656.7" cy="190.7" r="1.70"/><circle cx="657.3" cy="190.7" r="1.70"/><circle cx="658.0" cy="190.7" r="1.70"/><circle cx="658.7" cy="190.7" r="1.70"/><circle cx="659.3" cy="190.6" r="1.70"/><circle cx="660.0" cy="190.6" r="1.70"/><circle cx="660.6" cy="190.5" r="1.70"/><circle cx="661.3" cy="190.4" r="1.70"/><circle cx="662.0" cy="190.2" r="1.70"/><circle cx="662.6" cy="190.1" r="1.70"/><circle cx="663.3" cy="189.9" r="1.70"/><circle cx="663.9" cy="189.7" r="1.70"/><circle cx="664.6" cy="189.6" r="1.70"/><circle cx="665.3" cy="189.4" r="1.70"/><circle cx="665.9" cy="189.1" r="1.70"/><circle cx="666.6" cy="188.9" r="1.70"/><circle cx="667.2" cy="188.7" r="1.70"/><circle cx="667.9" cy="188.4" r="1.70"/><circle cx="668.6" cy="188.2" r="1.70"/><circle cx="669.2" cy="187.9" r="1.70"/><circle cx="669.9" cy="187.6" r="1.70"/><circle cx="670.5" cy="187.3" r="1.70"/><circle cx="671.2" cy="187.0" r="1.70"/><circle cx="671.9" cy="186.6" r="1.70"/><circle cx="672.5" cy="186.3" r="1.70"/><circle cx="673.2" cy="186.0" r="1.70"/><circle cx="673.8" cy="185.6" r="1.70"/><circle cx="674.5" cy="185.2" r="1.70"/><circle cx="675.2" cy="184.9" r="1.70"/><circle cx="675.8" cy="184.5" r="1.70"/><circle cx="676.5" cy="184.1" r="1.70"/><circle cx="677.1" cy="183.7" r="1.70"/><circle cx="677.8" cy="183.3" r="1.70"/><circle cx="678.5" cy="182.8" r="1.70"/><circle cx="679.1" cy="182.4" r="1.70"/><circle cx="679.8" cy="181.9" r="1.70"/><circle cx="680.4" cy="181.3" r="1.70"/><circle cx="681.1" cy="180.8" r="1.70"/><circle cx="681.8" cy="180.2" r="1.70"/><circle cx="682.4" cy="179.6" r="1.70"/><circle cx="683.1" cy="179.0" r="1.70"/><circle cx="683.7" cy="178.4" r="1.70"/><circle cx="684.4" cy="177.7" r="1.70"/><circle cx="685.1" cy="176.9" r="1.70"/><circle cx="685.7" cy="176.1" r="1.70"/><circle cx="686.4" cy="175.3" r="1.70"/><circle cx="687.0" cy="174.4" r="1.70"/><circle cx="687.7" cy="173.4" r="1.70"/><circle cx="688.2" cy="172.4" r="1.70"/><circle cx="688.8" cy="171.4" r="1.70"/><circle cx="689.2" cy="170.3" r="1.70"/><circle cx="689.7" cy="169.3" r="1.70"/><circle cx="690.1" cy="168.2" r="1.70"/><circle cx="690.5" cy="167.1" r="1.70"/><circle cx="690.8" cy="166.0" r="1.70"/><circle cx="691.2" cy="164.9" r="1.70"/><circle cx="691.6" cy="163.8" r="1.70"/><circle cx="691.9" cy="162.7" r="1.70"/><circle cx="692.2" cy="161.6" r="1.70"/><circle cx="692.5" cy="160.5" r="1.70"/><circle cx="692.8" cy="159.4" r="1.70"/><circle cx="693.2" cy="158.3" r="1.70"/><circle cx="693.5" cy="157.2" r="1.70"/><circle cx="693.8" cy="156.1" r="1.70"/><circle cx="694.1" cy="155.0" r="1.70"/><circle cx="694.4" cy="153.9" r="1.70"/><circle cx="694.8" cy="152.8" r="1.70"/><circle cx="695.1" cy="151.7" r="1.70"/><circle cx="695.4" cy="150.6" r="1.70"/><circle cx="695.7" cy="149.5" r="1.70"/><circle cx="696.1" cy="148.4" r="1.70"/><circle cx="696.4" cy="147.3" r="1.70"/><circle cx="696.8" cy="146.2" r="1.70"/><circle cx="697.1" cy="145.1" r="1.70"/><circle cx="697.5" cy="144.0" r="1.70"/><circle cx="697.9" cy="142.9" r="1.70"/><circle cx="698.3" cy="141.8" r="1.70"/><circle cx="698.7" cy="140.8" r="1.70"/><circle cx="699.1" cy="139.7" r="1.70"/><circle cx="699.6" cy="138.7" r="1.70"/><circle cx="700.3" cy="138.0" r="1.70"/><circle cx="700.9" cy="138.1" r="1.70"/><circle cx="701.6" cy="138.5" r="1.70"/><circle cx="702.2" cy="139.5" r="1.70"/><circle cx="702.6" cy="140.5" r="1.70"/><circle cx="703.0" cy="141.6" r="1.70"/><circle cx="703.3" cy="142.7" r="1.70"/><circle cx="703.7" cy="143.8" r="1.70"/><circle cx="704.0" cy="144.9" r="1.70"/><circle cx="704.3" cy="146.0" r="1.70"/><circle cx="704.6" cy="147.1" r="1.70"/><circle cx="704.9" cy="148.2" r="1.70"/><circle cx="705.1" cy="149.4" r="1.70"/><circle cx="705.4" cy="150.5" r="1.70"/><circle cx="705.6" cy="151.6" r="1.70"/><circle cx="705.9" cy="152.7" r="1.70"/><circle cx="706.2" cy="153.8" r="1.70"/><circle cx="706.5" cy="155.0" r="1.70"/><circle cx="706.8" cy="156.0" r="1.70"/><circle cx="707.2" cy="157.1" r="1.70"/><circle cx="707.6" cy="158.2" r="1.70"/><circle cx="708.0" cy="159.3" r="1.70"/><circle cx="708.4" cy="160.4" r="1.70"/><circle cx="708.9" cy="161.4" r="1.70"/><circle cx="709.3" cy="162.5" r="1.70"/><circle cx="709.9" cy="163.5" r="1.70"/><circle cx="710.4" cy="164.5" r="1.70"/><circle cx="711.0" cy="165.5" r="1.70"/><circle cx="711.7" cy="166.3" r="1.70"/><circle cx="712.3" cy="167.0" r="1.70"/><circle cx="713.0" cy="167.7" r="1.70"/><circle cx="713.7" cy="168.2" r="1.70"/><circle cx="714.3" cy="168.8" r="1.70"/><circle cx="715.0" cy="169.2" r="1.70"/><circle cx="715.6" cy="169.6" r="1.70"/><circle cx="716.3" cy="169.9" r="1.70"/><circle cx="717.0" cy="170.2" r="1.70"/><circle cx="717.6" cy="170.6" r="1.70"/><circle cx="718.3" cy="171.1" r="1.70"/><circle cx="718.9" cy="171.6" r="1.70"/><circle cx="719.6" cy="172.1" r="1.70"/><circle cx="720.3" cy="172.6" r="1.70"/><circle cx="720.9" cy="172.9" r="1.70"/><circle cx="721.6" cy="173.0" r="1.70"/><circle cx="722.2" cy="173.1" r="1.70"/><circle cx="722.9" cy="173.1" r="1.70"/><circle cx="723.6" cy="173.0" r="1.70"/><circle cx="724.2" cy="172.9" r="1.70"/><circle cx="724.9" cy="172.7" r="1.70"/><circle cx="725.5" cy="172.5" r="1.70"/><circle cx="726.2" cy="172.2" r="1.70"/><circle cx="726.9" cy="171.9" r="1.70"/><circle cx="727.5" cy="171.6" r="1.70"/><circle cx="728.2" cy="171.3" r="1.70"/><circle cx="728.8" cy="170.9" r="1.70"/><circle cx="729.5" cy="170.5" r="1.70"/><circle cx="730.2" cy="170.3" r="1.70"/><circle cx="730.8" cy="170.0" r="1.70"/><circle cx="731.5" cy="169.9" r="1.70"/><circle cx="732.1" cy="169.9" r="1.70"/><circle cx="732.8" cy="170.0" r="1.70"/><circle cx="733.5" cy="170.2" r="1.70"/><circle cx="734.1" cy="170.5" r="1.70"/><circle cx="734.8" cy="170.9" r="1.70"/><circle cx="735.4" cy="171.3" r="1.70"/><circle cx="736.1" cy="171.8" r="1.70"/><circle cx="736.8" cy="172.3" r="1.70"/><circle cx="737.4" cy="172.9" r="1.70"/><circle cx="738.1" cy="173.4" r="1.70"/><circle cx="738.7" cy="173.7" r="1.70"/><circle cx="739.4" cy="174.1" r="1.70"/><circle cx="740.1" cy="174.4" r="1.70"/><circle cx="740.7" cy="174.6" r="1.70"/><circle cx="741.4" cy="174.9" r="1.70"/><circle cx="742.0" cy="175.1" r="1.70"/><circle cx="742.7" cy="175.2" r="1.70"/><circle cx="743.4" cy="175.4" r="1.70"/><circle cx="744.0" cy="175.4" r="1.70"/><circle cx="744.7" cy="175.5" r="1.70"/><circle cx="745.3" cy="175.5" r="1.70"/><circle cx="746.0" cy="175.4" r="1.70"/><circle cx="746.7" cy="175.4" r="1.70"/><circle cx="747.3" cy="175.3" r="1.70"/><circle cx="748.0" cy="175.1" r="1.70"/><circle cx="748.6" cy="174.9" r="1.70"/><circle cx="749.3" cy="174.7" r="1.70"/><circle cx="750.0" cy="174.5" r="1.70"/><circle cx="750.6" cy="174.3" r="1.70"/><circle cx="751.3" cy="174.0" r="1.70"/><circle cx="751.9" cy="173.6" r="1.70"/><circle cx="752.6" cy="173.3" r="1.70"/><circle cx="753.3" cy="173.0" r="1.70"/><circle cx="753.9" cy="172.6" r="1.70"/><circle cx="754.6" cy="172.3" r="1.70"/><circle cx="755.2" cy="172.0" r="1.70"/><circle cx="755.9" cy="171.6" r="1.70"/><circle cx="756.6" cy="171.4" r="1.70"/><circle cx="757.2" cy="171.3" r="1.70"/><circle cx="757.9" cy="171.4" r="1.70"/><circle cx="758.5" cy="171.6" r="1.70"/><circle cx="759.2" cy="171.9" r="1.70"/><circle cx="759.9" cy="172.4" r="1.70"/><circle cx="760.5" cy="173.0" r="1.70"/><circle cx="761.2" cy="173.8" r="1.70"/><circle cx="761.8" cy="174.6" r="1.70"/><circle cx="762.5" cy="175.5" r="1.70"/><circle cx="763.2" cy="176.4" r="1.70"/><circle cx="763.8" cy="177.3" r="1.70"/><circle cx="764.5" cy="178.2" r="1.70"/><circle cx="765.1" cy="179.1" r="1.70"/><circle cx="765.8" cy="179.8" r="1.70"/><circle cx="766.5" cy="180.5" r="1.70"/><circle cx="767.1" cy="181.2" r="1.70"/><circle cx="767.8" cy="181.8" r="1.70"/><circle cx="768.4" cy="182.3" r="1.70"/><circle cx="769.1" cy="182.8" r="1.70"/><circle cx="769.8" cy="183.2" r="1.70"/><circle cx="770.4" cy="183.5" r="1.70"/><circle cx="771.1" cy="183.8" r="1.70"/><circle cx="771.7" cy="184.0" r="1.70"/><circle cx="772.4" cy="184.2" r="1.70"/><circle cx="773.1" cy="184.3" r="1.70"/><circle cx="773.7" cy="184.4" r="1.70"/><circle cx="774.4" cy="184.5" r="1.70"/><circle cx="775.0" cy="184.5" r="1.70"/><circle cx="775.7" cy="184.6" r="1.70"/><circle cx="776.4" cy="184.6" r="1.70"/><circle cx="777.0" cy="184.7" r="1.70"/><circle cx="777.7" cy="184.7" r="1.70"/><circle cx="778.3" cy="184.9" r="1.70"/><circle cx="779.0" cy="185.3" r="1.70"/><circle cx="779.7" cy="185.8" r="1.70"/><circle cx="780.3" cy="186.3" r="1.70"/><circle cx="781.0" cy="186.9" r="1.70"/><circle cx="781.6" cy="187.5" r="1.70"/><circle cx="782.3" cy="188.1" r="1.70"/><circle cx="783.0" cy="188.7" r="1.70"/><circle cx="783.6" cy="189.3" r="1.70"/><circle cx="784.3" cy="189.9" r="1.70"/><circle cx="784.9" cy="190.4" r="1.70"/><circle cx="785.6" cy="191.0" r="1.70"/><circle cx="786.3" cy="191.6" r="1.70"/><circle cx="786.9" cy="192.2" r="1.69"/><circle cx="787.6" cy="192.7" r="1.69"/><circle cx="788.2" cy="193.3" r="1.69"/><circle cx="788.9" cy="193.9" r="1.69"/><circle cx="789.6" cy="194.5" r="1.68"/><circle cx="790.2" cy="195.0" r="1.68"/><circle cx="790.9" cy="195.6" r="1.68"/><circle cx="791.5" cy="196.2" r="1.68"/><circle cx="792.2" cy="196.7" r="1.67"/><circle cx="792.9" cy="197.3" r="1.67"/><circle cx="793.5" cy="197.8" r="1.67"/><circle cx="794.2" cy="198.4" r="1.67"/><circle cx="794.8" cy="198.9" r="1.66"/><circle cx="795.5" cy="199.5" r="1.66"/><circle cx="796.2" cy="200.0" r="1.66"/><circle cx="796.8" cy="200.6" r="1.66"/><circle cx="797.5" cy="201.1" r="1.65"/><circle cx="798.1" cy="201.7" r="1.65"/><circle cx="798.8" cy="202.2" r="1.65"/><circle cx="799.5" cy="202.7" r="1.65"/><circle cx="800.1" cy="203.3" r="1.65"/><circle cx="800.8" cy="203.8" r="1.64"/><circle cx="801.4" cy="204.3" r="1.64"/><circle cx="802.1" cy="204.8" r="1.64"/><circle cx="802.8" cy="205.4" r="1.64"/><circle cx="803.4" cy="205.9" r="1.63"/><circle cx="804.1" cy="206.3" r="1.63"/><circle cx="804.7" cy="206.8" r="1.63"/><circle cx="805.4" cy="207.3" r="1.63"/><circle cx="806.1" cy="207.7" r="1.62"/><circle cx="806.7" cy="208.2" r="1.62"/><circle cx="807.4" cy="208.6" r="1.62"/><circle cx="808.0" cy="209.0" r="1.62"/><circle cx="808.7" cy="209.4" r="1.61"/><circle cx="809.4" cy="209.8" r="1.61"/><circle cx="810.0" cy="210.2" r="1.61"/><circle cx="810.7" cy="210.6" r="1.61"/><circle cx="811.3" cy="211.0" r="1.60"/><circle cx="812.0" cy="211.3" r="1.60"/><circle cx="812.7" cy="211.7" r="1.60"/><circle cx="813.3" cy="212.0" r="1.60"/><circle cx="814.0" cy="212.4" r="1.59"/><circle cx="814.6" cy="212.7" r="1.59"/><circle cx="815.3" cy="213.1" r="1.59"/><circle cx="816.0" cy="213.4" r="1.59"/><circle cx="816.6" cy="213.7" r="1.59"/><circle cx="817.3" cy="213.9" r="1.58"/><circle cx="817.9" cy="214.2" r="1.58"/><circle cx="818.6" cy="214.5" r="1.58"/><circle cx="819.3" cy="214.7" r="1.58"/><circle cx="819.9" cy="214.9" r="1.57"/><circle cx="820.6" cy="215.1" r="1.57"/><circle cx="821.2" cy="215.3" r="1.57"/><circle cx="821.9" cy="215.4" r="1.57"/><circle cx="822.6" cy="215.6" r="1.56"/><circle cx="823.2" cy="215.8" r="1.56"/><circle cx="823.9" cy="215.9" r="1.56"/><circle cx="824.5" cy="216.0" r="1.56"/><circle cx="825.2" cy="216.1" r="1.55"/><circle cx="825.9" cy="216.2" r="1.55"/><circle cx="826.5" cy="216.3" r="1.55"/><circle cx="827.2" cy="216.4" r="1.55"/><circle cx="827.8" cy="216.5" r="1.54"/><circle cx="828.5" cy="216.5" r="1.54"/><circle cx="829.2" cy="216.5" r="1.54"/><circle cx="829.8" cy="216.5" r="1.54"/><circle cx="830.5" cy="216.5" r="1.53"/><circle cx="831.1" cy="216.4" r="1.53"/><circle cx="831.8" cy="216.4" r="1.53"/><circle cx="832.5" cy="216.4" r="1.53"/><circle cx="833.1" cy="216.3" r="1.53"/><circle cx="833.8" cy="216.3" r="1.52"/><circle cx="834.4" cy="216.2" r="1.52"/><circle cx="835.1" cy="216.1" r="1.52"/><circle cx="835.8" cy="216.0" r="1.52"/><circle cx="836.4" cy="215.9" r="1.51"/><circle cx="837.1" cy="215.9" r="1.51"/><circle cx="837.7" cy="215.8" r="1.51"/><circle cx="838.4" cy="215.7" r="1.51"/><circle cx="839.1" cy="215.6" r="1.50"/><circle cx="839.7" cy="215.5" r="1.50"/><circle cx="840.4" cy="215.5" r="1.50"/><circle cx="841.0" cy="215.4" r="1.50"/><circle cx="841.7" cy="215.3" r="1.50"/><circle cx="842.4" cy="215.2" r="1.50"/><circle cx="843.0" cy="215.2" r="1.50"/><circle cx="843.7" cy="215.1" r="1.50"/><circle cx="844.3" cy="215.0" r="1.50"/><circle cx="845.0" cy="214.9" r="1.50"/><circle cx="845.7" cy="214.8" r="1.50"/><circle cx="846.3" cy="214.7" r="1.50"/><circle cx="847.0" cy="214.7" r="1.50"/><circle cx="847.6" cy="214.6" r="1.50"/><circle cx="848.3" cy="214.4" r="1.50"/><circle cx="849.0" cy="214.5" r="1.50"/><circle cx="849.6" cy="214.3" r="1.50"/><circle cx="850.3" cy="214.2" r="1.50"/><circle cx="850.9" cy="214.1" r="1.50"/><circle cx="851.6" cy="214.1" r="1.50"/><circle cx="852.3" cy="214.0" r="1.50"/><circle cx="852.9" cy="214.0" r="1.50"/><circle cx="853.6" cy="213.9" r="1.50"/><circle cx="854.2" cy="213.7" r="1.50"/><circle cx="854.9" cy="213.7" r="1.50"/><circle cx="855.6" cy="213.5" r="1.50"/><circle cx="856.2" cy="213.4" r="1.50"/><circle cx="856.9" cy="213.4" r="1.50"/><circle cx="857.5" cy="213.4" r="1.50"/><circle cx="858.2" cy="213.2" r="1.50"/><circle cx="858.9" cy="213.2" r="1.50"/><circle cx="859.5" cy="213.0" r="1.50"/><circle cx="860.2" cy="213.1" r="1.50"/><circle cx="860.8" cy="212.9" r="1.50"/><circle cx="861.5" cy="212.7" r="1.50"/><circle cx="862.2" cy="212.8" r="1.50"/><circle cx="862.8" cy="212.6" r="1.50"/><circle cx="863.5" cy="212.6" r="1.50"/><circle cx="864.1" cy="212.4" r="1.50"/><circle cx="864.8" cy="212.6" r="1.50"/><circle cx="865.5" cy="212.4" r="1.50"/><circle cx="866.1" cy="212.6" r="1.50"/><circle cx="866.8" cy="212.3" r="1.50"/><circle cx="867.4" cy="212.1" r="1.50"/><circle cx="868.1" cy="212.3" r="1.50"/><circle cx="868.8" cy="212.3" r="1.50"/><circle cx="869.4" cy="212.3" r="1.50"/><circle cx="870.1" cy="211.9" r="1.50"/><circle cx="870.7" cy="212.2" r="1.50"/><circle cx="871.4" cy="212.2" r="1.50"/><circle cx="872.1" cy="211.9" r="1.50"/><circle cx="872.7" cy="211.9" r="1.50"/><circle cx="873.4" cy="212.0" r="1.50"/><circle cx="874.0" cy="211.8" r="1.50"/><circle cx="874.7" cy="212.1" r="1.50"/><circle cx="875.4" cy="212.0" r="1.50"/><circle cx="876.0" cy="212.1" r="1.50"/><circle cx="876.7" cy="211.9" r="1.50"/><circle cx="877.3" cy="211.9" r="1.50"/><circle cx="878.0" cy="211.7" r="1.50"/><circle cx="878.7" cy="211.8" r="1.50"/><circle cx="879.3" cy="212.1" r="1.50"/><circle cx="880.0" cy="212.3" r="1.50"/><circle cx="880.6" cy="211.7" r="1.50"/><circle cx="881.3" cy="211.7" r="1.50"/><circle cx="882.0" cy="211.7" r="1.50"/><circle cx="882.6" cy="212.0" r="1.50"/><circle cx="883.3" cy="212.3" r="1.50"/><circle cx="883.9" cy="211.9" r="1.50"/><circle cx="884.6" cy="212.2" r="1.50"/><circle cx="885.3" cy="212.2" r="1.50"/><circle cx="885.9" cy="212.5" r="1.50"/><circle cx="886.6" cy="212.0" r="1.50"/><circle cx="887.2" cy="212.0" r="1.50"/><circle cx="887.9" cy="212.4" r="1.50"/><circle cx="888.6" cy="212.4" r="1.50"/><circle cx="889.2" cy="212.4" r="1.50"/><circle cx="889.9" cy="212.8" r="1.50"/><circle cx="890.5" cy="212.8" r="1.50"/><circle cx="891.2" cy="212.4" r="1.50"/><circle cx="891.9" cy="212.9" r="1.50"/><circle cx="892.5" cy="213.2" r="1.50"/><circle cx="893.2" cy="213.4" r="1.50"/><circle cx="893.8" cy="212.6" r="1.50"/><circle cx="894.5" cy="213.4" r="1.50"/><circle cx="895.2" cy="212.8" r="1.50"/><circle cx="895.8" cy="213.5" r="1.50"/><circle cx="896.5" cy="213.5" r="1.50"/><circle cx="897.1" cy="214.0" r="1.50"/><circle cx="897.8" cy="213.8" r="1.50"/><circle cx="898.5" cy="213.3" r="1.50"/><circle cx="899.1" cy="214.0" r="1.50"/><circle cx="899.8" cy="213.7" r="1.50"/><circle cx="900.4" cy="214.5" r="1.50"/><circle cx="901.1" cy="213.7" r="1.50"/><circle cx="901.8" cy="214.2" r="1.50"/><circle cx="902.4" cy="214.7" r="1.50"/><circle cx="903.1" cy="214.2" r="1.50"/><circle cx="903.7" cy="214.9" r="1.50"/><circle cx="904.4" cy="215.1" r="1.50"/><circle cx="905.1" cy="215.3" r="1.50"/><circle cx="905.7" cy="215.6" r="1.50"/><circle cx="906.4" cy="215.2" r="1.50"/><circle cx="907.0" cy="215.0" r="1.50"/><circle cx="907.7" cy="215.3" r="1.50"/><circle cx="908.4" cy="215.6" r="1.50"/><circle cx="909.0" cy="215.3" r="1.50"/><circle cx="909.7" cy="216.2" r="1.50"/><circle cx="910.3" cy="215.6" r="1.50"/><circle cx="911.0" cy="215.7" r="1.50"/><circle cx="911.7" cy="216.9" r="1.50"/><circle cx="912.3" cy="216.9" r="1.50"/><circle cx="913.0" cy="216.4" r="1.50"/><circle cx="913.6" cy="216.6" r="1.50"/><circle cx="914.3" cy="217.4" r="1.50"/><circle cx="915.0" cy="217.3" r="1.50"/><circle cx="915.6" cy="216.9" r="1.50"/><circle cx="916.3" cy="217.3" r="1.50"/><circle cx="916.9" cy="218.0" r="1.50"/><circle cx="917.6" cy="217.0" r="1.50"/><circle cx="918.3" cy="218.5" r="1.50"/><circle cx="918.9" cy="218.1" r="1.50"/><circle cx="919.6" cy="217.7" r="1.50"/><circle cx="920.2" cy="218.7" r="1.50"/><circle cx="920.9" cy="217.8" r="1.50"/><circle cx="921.6" cy="218.4" r="1.50"/><circle cx="922.2" cy="218.8" r="1.50"/><circle cx="922.9" cy="218.5" r="1.50"/><circle cx="923.5" cy="219.5" r="1.50"/><circle cx="924.2" cy="219.4" r="1.50"/><circle cx="924.9" cy="218.8" r="1.50"/><circle cx="925.5" cy="218.9" r="1.50"/><circle cx="926.2" cy="218.9" r="1.50"/><circle cx="926.8" cy="219.8" r="1.50"/><circle cx="927.5" cy="219.3" r="1.50"/><circle cx="928.2" cy="220.0" r="1.50"/><circle cx="928.8" cy="220.5" r="1.50"/><circle cx="929.5" cy="220.8" r="1.50"/><circle cx="930.1" cy="219.7" r="1.50"/><circle cx="930.8" cy="220.2" r="1.50"/><circle cx="931.5" cy="220.4" r="1.50"/><circle cx="932.1" cy="220.5" r="1.50"/><circle cx="932.8" cy="220.7" r="1.50"/><circle cx="933.4" cy="220.9" r="1.50"/><circle cx="934.1" cy="221.5" r="1.50"/><circle cx="934.8" cy="220.8" r="1.50"/><circle cx="935.4" cy="221.0" r="1.50"/><circle cx="936.1" cy="221.2" r="1.50"/><circle cx="936.7" cy="220.9" r="1.50"/><circle cx="937.4" cy="221.8" r="1.50"/><circle cx="938.1" cy="221.6" r="1.50"/><circle cx="938.7" cy="222.5" r="1.50"/><circle cx="939.4" cy="222.5" r="1.50"/><circle cx="940.0" cy="221.6" r="1.50"/><circle cx="940.7" cy="221.7" r="1.50"/><circle cx="941.4" cy="222.7" r="1.50"/><circle cx="942.0" cy="222.5" r="1.50"/><circle cx="942.7" cy="221.6" r="1.50"/><circle cx="943.3" cy="222.8" r="1.50"/><circle cx="944.0" cy="222.4" r="1.50"/><circle cx="944.7" cy="223.2" r="1.50"/><circle cx="945.3" cy="223.2" r="1.50"/><circle cx="946.0" cy="223.6" r="1.50"/><circle cx="946.6" cy="223.3" r="1.50"/><circle cx="947.3" cy="223.8" r="1.50"/><circle cx="948.0" cy="222.7" r="1.50"/><circle cx="948.6" cy="222.9" r="1.50"/><circle cx="949.3" cy="222.4" r="1.50"/><circle cx="949.9" cy="224.0" r="1.50"/><circle cx="950.6" cy="222.7" r="1.50"/><circle cx="951.3" cy="223.5" r="1.50"/><circle cx="951.9" cy="223.5" r="1.50"/><circle cx="952.6" cy="224.1" r="1.50"/><circle cx="953.2" cy="223.3" r="1.50"/><circle cx="953.9" cy="222.9" r="1.50"/><circle cx="954.6" cy="223.4" r="1.50"/><circle cx="955.2" cy="222.7" r="1.50"/><circle cx="955.9" cy="223.2" r="1.50"/><circle cx="956.5" cy="223.8" r="1.50"/><circle cx="957.2" cy="222.7" r="1.50"/><circle cx="957.9" cy="224.5" r="1.50"/><circle cx="958.5" cy="223.5" r="1.50"/><circle cx="959.2" cy="223.0" r="1.50"/><circle cx="959.8" cy="224.1" r="1.50"/><circle cx="960.5" cy="222.6" r="1.50"/><circle cx="961.2" cy="222.9" r="1.50"/><circle cx="961.8" cy="224.2" r="1.50"/><circle cx="962.5" cy="222.7" r="1.50"/><circle cx="963.1" cy="223.7" r="1.50"/><circle cx="963.8" cy="222.3" r="1.50"/><circle cx="964.5" cy="223.2" r="1.50"/><circle cx="965.1" cy="223.4" r="1.50"/><circle cx="965.8" cy="222.5" r="1.50"/><circle cx="966.4" cy="222.7" r="1.50"/><circle cx="967.1" cy="223.1" r="1.50"/></g>
<path d="M687.0 172.5 L687.8 172.4 L688.7 171.5 L688.9 171.0 L689.2 170.5 L689.4 169.8 L689.7 169.1 L690.0 168.3 L690.3 167.5 L690.6 166.6 L690.9 165.8 L691.2 164.9 L691.5 164.0 L691.7 163.3 L692.0 162.6 L692.3 161.8 L692.5 161.0 L692.8 160.2 L693.1 159.4 L693.4 158.6 L693.7 157.8 L693.9 157.0 L694.2 156.2 L694.5 155.4 L694.7 154.7 L695.0 154.0 L695.3 153.1 L695.6 152.3 L696.0 151.4 L696.3 150.6 L696.6 149.8 L696.9 149.1 L697.2 148.4 L697.5 147.7 L697.7 147.1 L698.0 146.5 L698.5 145.5 L699.0 144.5 L699.4 143.8 L699.9 143.3 L700.3 143.2 L700.8 143.4 L701.2 144.0 L701.6 144.8 L702.1 145.8 L702.6 147.0 L702.8 147.6 L703.1 148.4 L703.4 149.2 L703.7 150.1 L704.0 151.0 L704.3 151.9 L704.5 152.8 L704.8 153.6 L705.1 154.4 L705.3 155.0 L705.5 155.5 L706.1 155.8 L706.8 156.0 L707.0 156.5 L707.3 157.1 L707.6 157.9 L707.9 158.7 L708.3 159.6 L708.6 160.5 L709.0 161.4 L709.4 162.3 L709.7 163.1 L710.1 163.9 L710.4 164.5 L711.0 165.4 L711.6 166.2 L712.2 166.9 L712.8 167.5 L713.4 168.0 L714.0 168.5 L714.7 169.0 L715.4 169.5 L716.2 169.8 L716.9 170.2 L717.6 170.6 L718.3 171.1 L719.0 171.6 L719.6 172.1 L720.3 172.6 L721.0 172.9 L721.9 173.1 L722.8 173.1 L723.7 173.0 L724.5 172.8 L725.2 172.4 L725.9 171.9 L726.6 171.3 L727.2 170.8 L728.0 170.1 L728.8 169.5 L729.5 169.0 L730.6 168.4 L731.7 168.2 L732.8 168.4 L733.9 169.0 L734.5 169.5 L735.1 170.1 L735.7 170.7 L736.3 171.3 L737.0 172.1 L737.6 172.9 L738.5 173.6 L739.2 174.0 L740.0 174.4 L740.8 174.7 L741.7 175.0 L742.5 175.2 L743.3 175.4 L744.1 175.4 L744.9 175.5 L745.7 175.5 L746.5 175.4 L747.3 175.3 L748.1 175.1 L748.9 174.8 L749.7 174.6 L750.5 174.3 L751.4 173.9 L752.3 173.5 L753.2 173.0 L754.0 172.6 L754.8 172.2 L755.6 171.8 L756.4 171.4 L757.2 171.3 L758.2 171.4 L759.1 171.9 L760.0 172.5 L760.6 173.1 L761.2 173.8 L761.8 174.6 L762.5 175.5 L763.0 176.1 L763.4 176.8 L763.9 177.5 L764.4 178.2 L765.0 178.9 L765.5 179.5 L766.2 180.2 L766.9 180.9 L767.6 181.6 L768.3 182.2 L769.0 182.7 L769.9 183.2 L770.8 183.6 L771.6 183.9 L772.5 184.2 L773.4 184.4 L774.3 184.4 L775.2 184.5 L776.0 184.6 L777.0 184.7 L777.9 184.8 L779.0 185.3 L779.5 185.7 L780.1 186.1 L780.7 186.6 L781.3 187.2 L782.0 187.8 L782.6 188.4 L783.4 189.0 L784.1 189.7 L784.7 190.2 L785.2 190.7 L785.8 191.2 L786.5 191.8 L787.1 192.3 L787.7 192.9 L788.4 193.5 L789.0 194.0 L789.7 194.6 L790.4 195.1 L791.0 195.7 L791.6 196.2 L792.3 196.8 L793.0 197.4 L793.6 197.9 L794.3 198.5 L794.9 199.0 L795.6 199.6 L796.3 200.1 L796.9 200.7 L797.6 201.2 L798.2 201.7 L798.9 202.3 L799.6 202.8 L800.3 203.4 L800.9 203.9 L801.6 204.4 L802.3 205.0 L802.9 205.5 L803.6 206.0 L804.3 206.5 L805.0 207.0 L805.7 207.5 L806.4 208.0 L807.2 208.5 L807.9 208.9 L808.7 209.4 L809.4 209.8 L810.1 210.3 L810.9 210.7 L811.6 211.1 L812.3 211.5 L813.1 211.9 L813.8 212.3 L814.6 212.7 L815.3 213.1 L816.0 213.4 L816.7 213.7 L817.5 214.0 L818.2 214.3 L819.0 214.6 L819.8 214.9 L820.6 215.1 L821.4 215.3 L822.3 215.5 L823.1 215.7 L824.0 215.9 L824.8 216.1 L825.6 216.2 L826.3 216.3 L827.2 216.4 L828.0 216.5 L828.9 216.5 L829.6 216.5 L830.4 216.5 L831.2 216.4 L832.0 216.4 L832.8 216.4 L833.6 216.3 L834.3 216.2 L835.1 216.1 L835.9 216.0 L836.7 215.9 L837.6 215.8 L838.3 215.7 L839.1 215.6 L839.9 215.5 L840.7 215.4 L841.5 215.3 L842.4 215.2 L843.3 215.1 L844.1 215.0 L845.0 214.9 L845.8 214.8 L846.6 214.7 L847.4 214.6 L848.2 214.5 L849.0 214.4 L849.8 214.3 L850.7 214.2 L851.6 214.1 L852.5 214.0 L853.4 213.9 L854.1 213.8 L854.9 213.7 L855.7 213.6 L856.5 213.5 L857.3 213.4 L858.2 213.3 L859.0 213.2 L859.8 213.1 L860.7 213.0 L861.5 212.9 L862.4 212.8 L863.2 212.7 L864.0 212.6 L864.8 212.5 L865.6 212.4 L866.4 212.4 L867.2 212.3 L868.0 212.2 L868.9 212.2 L869.7 212.1 L870.5 212.1 L871.3 212.0 L872.1 212.0 L872.9 211.9 L873.7 211.9 L874.5 211.9 L875.3 211.9 L876.1 211.9 L876.9 211.9 L877.7 211.9 L878.5 211.9 L879.3 211.9 L880.1 212.0 L881.0 212.0 L881.8 212.0 L882.6 212.1 L883.4 212.1 L884.2 212.1 L885.0 212.2 L885.8 212.3 L886.6 212.3 L887.4 212.4 L888.3 212.5 L889.1 212.5 L889.9 212.6 L890.7 212.7 L891.5 212.8 L892.3 212.9 L893.2 213.0 L894.0 213.1 L894.8 213.2 L895.6 213.3 L896.4 213.4 L897.2 213.5 L898.0 213.7 L898.8 213.8 L899.6 214.0 L900.4 214.1 L901.2 214.3 L902.0 214.4 L902.8 214.6 L903.6 214.7 L904.4 214.9 L905.2 215.0 L906.0 215.2 L906.8 215.4 L907.6 215.5 L908.5 215.7 L909.3 215.9 L910.2 216.1 L911.0 216.2 L911.8 216.4 L912.7 216.6 L913.5 216.8 L914.3 217.0 L915.2 217.1 L916.0 217.3 L916.8 217.5 L917.6 217.7 L918.4 217.8 L919.2 218.0 L920.0 218.2 L920.7 218.4 L921.5 218.5 L922.3 218.7 L923.1 218.9 L923.8 219.0 L924.6 219.2 L925.4 219.4 L926.2 219.5 L927.0 219.7 L927.8 219.9 L928.7 220.0 L929.5 220.2 L930.4 220.4 L931.2 220.5 L932.1 220.7 L932.9 220.8 L933.8 221.0 L934.7 221.1 L935.5 221.3 L936.3 221.4 L937.1 221.6 L937.9 221.7 L938.8 221.8 L939.7 222.0 L940.5 222.1 L941.4 222.3 L942.2 222.4 L943.1 222.5 L943.9 222.6 L944.7 222.7 L945.4 222.8 L946.2 222.9 L947.0 223.0 L947.9 223.1 L948.9 223.2 L949.8 223.3 L950.6 223.4 L951.5 223.4 L952.4 223.5 L953.2 223.5 L954.0 223.6 L954.8 223.6 L955.8 223.6 L956.7 223.6 L957.6 223.5 L958.4 223.5 L959.3 223.4 L960.1 223.4 L961.0 223.3 L961.8 223.3 L962.6 223.2 L963.4 223.2 L964.2 223.2 L965.0 223.1 L965.9 223.1 L966.7 223.0 L967.5 223.0" fill="none" stroke="#3a3a3a" stroke-width="0.9" stroke-linejoin="round" stroke-linecap="round"/>
<path d="M643.2 195.6 L643.8 195.0 L644.4 194.4 L645.0 193.8 L645.6 193.2 L646.2 192.6 L646.8 192.1 L647.5 191.5 L648.2 191.0 L648.8 190.5 L649.5 190.0 L650.2 189.5 L650.9 189.0 L651.7 188.5 L652.5 188.0 L653.1 187.6 L653.8 187.1 L654.5 186.6 L655.2 186.2 L655.9 185.7 L656.7 185.2 L657.4 184.7 L658.2 184.3 L659.0 183.8 L659.7 183.4 L660.4 183.1 L661.1 182.7 L661.8 182.3 L662.6 182.0 L663.3 181.6 L664.1 181.3 L664.8 180.9 L665.6 180.6 L666.3 180.3 L667.0 180.0 L667.8 179.6 L668.6 179.3 L669.5 179.0 L670.3 178.7 L671.0 178.4 L671.8 178.1 L672.6 177.8 L673.3 177.6 L674.0 177.3 L674.9 177.0 L675.7 176.7 L676.6 176.4 L677.4 176.2 L678.1 175.9 L678.9 175.7 L679.6 175.5 L680.6 175.2 L681.5 175.0 L682.4 174.8 L683.2 174.6 L684.0 174.3 L684.8 173.9 L685.6 173.4 L686.3 173.0 L687.0 172.5" fill="none" stroke="#444" stroke-width="1.25" stroke-linejoin="round" stroke-linecap="round"/>
<g fill="none" stroke="#333" stroke-width="0.5"><circle cx="641.3" cy="236.4" r="1.60"/><circle cx="642.0" cy="236.7" r="1.60"/><circle cx="642.6" cy="237.0" r="1.60"/><circle cx="643.3" cy="237.3" r="1.60"/><circle cx="643.9" cy="237.6" r="1.60"/><circle cx="644.6" cy="237.9" r="1.60"/><circle cx="645.3" cy="238.2" r="1.60"/><circle cx="645.9" cy="238.5" r="1.60"/><circle cx="646.6" cy="238.7" r="1.60"/><circle cx="647.2" cy="239.0" r="1.60"/><circle cx="647.9" cy="239.2" r="1.60"/><circle cx="648.6" cy="239.4" r="1.60"/><circle cx="649.2" cy="239.6" r="1.60"/><circle cx="649.9" cy="239.7" r="1.60"/><circle cx="650.5" cy="239.9" r="1.60"/><circle cx="651.2" cy="240.0" r="1.60"/><circle cx="651.9" cy="240.1" r="1.60"/><circle cx="652.5" cy="240.2" r="1.60"/><circle cx="653.2" cy="240.3" r="1.60"/><circle cx="653.8" cy="240.3" r="1.60"/><circle cx="654.5" cy="240.3" r="1.60"/><circle cx="655.2" cy="240.3" r="1.60"/><circle cx="655.8" cy="240.3" r="1.60"/><circle cx="656.5" cy="240.2" r="1.60"/><circle cx="657.1" cy="240.2" r="1.60"/><circle cx="657.8" cy="240.0" r="1.60"/><circle cx="658.5" cy="239.9" r="1.60"/><circle cx="659.1" cy="239.7" r="1.60"/><circle cx="659.8" cy="239.6" r="1.60"/><circle cx="660.4" cy="239.3" r="1.60"/><circle cx="661.1" cy="239.1" r="1.60"/><circle cx="661.8" cy="238.8" r="1.60"/><circle cx="662.4" cy="238.5" r="1.60"/><circle cx="663.1" cy="238.1" r="1.60"/><circle cx="663.7" cy="237.7" r="1.60"/><circle cx="664.4" cy="237.3" r="1.60"/><circle cx="665.1" cy="236.8" r="1.60"/><circle cx="665.7" cy="236.2" r="1.60"/><circle cx="666.4" cy="235.7" r="1.60"/><circle cx="667.0" cy="235.1" r="1.60"/><circle cx="667.7" cy="234.6" r="1.60"/><circle cx="668.4" cy="234.0" r="1.60"/><circle cx="669.0" cy="233.3" r="1.60"/><circle cx="669.7" cy="232.7" r="1.60"/><circle cx="670.3" cy="231.9" r="1.60"/><circle cx="671.0" cy="231.1" r="1.60"/><circle cx="671.6" cy="230.1" r="1.60"/><circle cx="672.2" cy="229.1" r="1.60"/><circle cx="672.7" cy="228.1" r="1.60"/><circle cx="673.2" cy="227.1" r="1.60"/><circle cx="673.7" cy="226.0" r="1.60"/><circle cx="674.2" cy="225.0" r="1.60"/><circle cx="674.7" cy="223.9" r="1.60"/><circle cx="675.1" cy="222.9" r="1.60"/><circle cx="675.5" cy="221.8" r="1.60"/><circle cx="676.0" cy="220.7" r="1.60"/><circle cx="676.3" cy="219.6" r="1.60"/><circle cx="676.7" cy="218.6" r="1.60"/><circle cx="677.1" cy="217.5" r="1.60"/><circle cx="677.5" cy="216.4" r="1.60"/><circle cx="677.8" cy="215.3" r="1.60"/><circle cx="678.1" cy="214.2" r="1.60"/><circle cx="678.5" cy="213.1" r="1.60"/><circle cx="678.8" cy="212.0" r="1.60"/><circle cx="679.1" cy="210.9" r="1.60"/><circle cx="679.4" cy="209.8" r="1.60"/><circle cx="679.8" cy="208.7" r="1.60"/><circle cx="680.1" cy="207.5" r="1.60"/><circle cx="680.4" cy="206.4" r="1.60"/><circle cx="680.7" cy="205.3" r="1.60"/><circle cx="681.0" cy="204.2" r="1.60"/><circle cx="681.3" cy="203.1" r="1.60"/><circle cx="681.6" cy="202.0" r="1.60"/><circle cx="681.9" cy="200.9" r="1.60"/><circle cx="682.2" cy="199.8" r="1.60"/><circle cx="682.5" cy="198.7" r="1.60"/><circle cx="682.8" cy="197.6" r="1.60"/><circle cx="683.1" cy="196.4" r="1.60"/><circle cx="683.4" cy="195.3" r="1.60"/><circle cx="683.7" cy="194.2" r="1.60"/><circle cx="684.1" cy="193.1" r="1.60"/><circle cx="684.4" cy="192.1" r="1.60"/><circle cx="684.9" cy="191.0" r="1.60"/><circle cx="685.5" cy="190.4" r="1.60"/><circle cx="686.2" cy="191.0" r="1.60"/><circle cx="686.6" cy="192.1" r="1.60"/><circle cx="687.0" cy="193.2" r="1.60"/><circle cx="687.4" cy="194.3" r="1.60"/><circle cx="687.7" cy="195.4" r="1.60"/><circle cx="688.0" cy="196.5" r="1.60"/><circle cx="688.3" cy="197.6" r="1.60"/><circle cx="688.6" cy="198.7" r="1.60"/><circle cx="688.9" cy="199.8" r="1.60"/><circle cx="689.2" cy="200.9" r="1.60"/><circle cx="689.5" cy="202.0" r="1.60"/><circle cx="689.8" cy="203.1" r="1.60"/><circle cx="690.1" cy="204.3" r="1.60"/><circle cx="690.4" cy="205.4" r="1.60"/><circle cx="690.7" cy="206.5" r="1.60"/><circle cx="691.0" cy="207.6" r="1.60"/><circle cx="691.3" cy="208.7" r="1.60"/><circle cx="691.6" cy="209.8" r="1.60"/><circle cx="692.0" cy="210.9" r="1.60"/><circle cx="692.3" cy="212.0" r="1.60"/><circle cx="692.6" cy="213.1" r="1.60"/><circle cx="692.9" cy="214.2" r="1.60"/><circle cx="693.3" cy="215.3" r="1.60"/><circle cx="693.6" cy="216.4" r="1.60"/><circle cx="694.0" cy="217.5" r="1.60"/><circle cx="694.5" cy="218.5" r="1.60"/><circle cx="695.0" cy="219.6" r="1.60"/><circle cx="695.5" cy="220.6" r="1.60"/><circle cx="696.2" cy="221.5" r="1.60"/><circle cx="696.8" cy="222.4" r="1.60"/><circle cx="697.5" cy="223.0" r="1.60"/><circle cx="698.1" cy="223.6" r="1.60"/><circle cx="698.8" cy="224.0" r="1.60"/><circle cx="699.5" cy="224.3" r="1.60"/><circle cx="700.1" cy="224.4" r="1.60"/><circle cx="700.8" cy="224.3" r="1.60"/><circle cx="701.4" cy="224.1" r="1.60"/><circle cx="702.1" cy="223.9" r="1.60"/><circle cx="702.8" cy="223.6" r="1.60"/><circle cx="703.4" cy="223.2" r="1.60"/><circle cx="704.1" cy="222.7" r="1.60"/><circle cx="704.7" cy="222.2" r="1.60"/><circle cx="705.4" cy="221.8" r="1.60"/><circle cx="706.1" cy="221.5" r="1.60"/><circle cx="706.7" cy="221.1" r="1.60"/><circle cx="707.4" cy="220.8" r="1.60"/><circle cx="708.0" cy="220.6" r="1.60"/><circle cx="708.7" cy="220.6" r="1.60"/><circle cx="709.4" cy="220.7" r="1.60"/><circle cx="710.0" cy="221.0" r="1.60"/><circle cx="710.7" cy="221.4" r="1.60"/><circle cx="711.3" cy="221.8" r="1.60"/><circle cx="712.0" cy="222.4" r="1.60"/><circle cx="712.7" cy="223.0" r="1.60"/><circle cx="713.3" cy="223.6" r="1.60"/><circle cx="714.0" cy="224.3" r="1.60"/><circle cx="714.6" cy="224.9" r="1.60"/><circle cx="715.3" cy="225.7" r="1.60"/><circle cx="716.0" cy="226.3" r="1.60"/><circle cx="716.6" cy="226.9" r="1.60"/><circle cx="717.3" cy="227.3" r="1.60"/><circle cx="717.9" cy="227.6" r="1.60"/><circle cx="718.6" cy="227.6" r="1.60"/><circle cx="719.3" cy="227.5" r="1.60"/><circle cx="719.9" cy="227.2" r="1.60"/><circle cx="720.6" cy="226.7" r="1.60"/><circle cx="721.2" cy="226.2" r="1.60"/><circle cx="721.9" cy="225.6" r="1.60"/><circle cx="722.6" cy="224.9" r="1.60"/><circle cx="723.2" cy="224.2" r="1.60"/><circle cx="723.9" cy="223.4" r="1.60"/><circle cx="724.5" cy="222.7" r="1.60"/><circle cx="725.2" cy="222.0" r="1.60"/><circle cx="725.9" cy="221.3" r="1.60"/><circle cx="726.5" cy="220.7" r="1.60"/><circle cx="727.2" cy="220.1" r="1.60"/><circle cx="727.8" cy="219.6" r="1.60"/><circle cx="728.5" cy="219.2" r="1.60"/><circle cx="729.2" cy="218.8" r="1.60"/><circle cx="729.8" cy="218.5" r="1.60"/><circle cx="730.5" cy="218.3" r="1.60"/><circle cx="731.1" cy="218.3" r="1.60"/><circle cx="731.8" cy="218.4" r="1.60"/><circle cx="732.5" cy="218.7" r="1.60"/><circle cx="733.1" cy="219.2" r="1.60"/><circle cx="733.8" cy="219.8" r="1.60"/><circle cx="734.4" cy="220.4" r="1.60"/><circle cx="735.1" cy="221.2" r="1.60"/><circle cx="735.8" cy="222.1" r="1.60"/><circle cx="736.4" cy="222.9" r="1.60"/><circle cx="737.1" cy="223.7" r="1.60"/><circle cx="737.7" cy="224.4" r="1.60"/><circle cx="738.4" cy="225.1" r="1.60"/><circle cx="739.1" cy="225.7" r="1.60"/><circle cx="739.7" cy="226.3" r="1.60"/><circle cx="740.4" cy="226.7" r="1.60"/><circle cx="741.0" cy="227.1" r="1.60"/><circle cx="741.7" cy="227.4" r="1.60"/><circle cx="742.4" cy="227.6" r="1.60"/><circle cx="743.0" cy="227.7" r="1.60"/><circle cx="743.7" cy="227.8" r="1.60"/><circle cx="744.3" cy="227.8" r="1.60"/><circle cx="745.0" cy="227.7" r="1.60"/><circle cx="745.7" cy="227.5" r="1.60"/><circle cx="746.3" cy="227.4" r="1.60"/><circle cx="747.0" cy="227.4" r="1.60"/><circle cx="747.6" cy="227.3" r="1.60"/><circle cx="748.3" cy="227.3" r="1.60"/><circle cx="749.0" cy="227.4" r="1.60"/><circle cx="749.6" cy="227.6" r="1.60"/><circle cx="750.3" cy="227.9" r="1.60"/><circle cx="750.9" cy="228.3" r="1.60"/><circle cx="751.6" cy="228.7" r="1.60"/><circle cx="752.3" cy="229.2" r="1.60"/><circle cx="752.9" cy="229.7" r="1.60"/><circle cx="753.6" cy="230.3" r="1.60"/><circle cx="754.2" cy="230.9" r="1.60"/><circle cx="754.9" cy="231.5" r="1.60"/><circle cx="755.6" cy="232.1" r="1.60"/><circle cx="756.2" cy="232.7" r="1.60"/><circle cx="756.9" cy="233.3" r="1.60"/><circle cx="757.5" cy="233.9" r="1.60"/><circle cx="758.2" cy="234.4" r="1.60"/><circle cx="758.9" cy="234.9" r="1.60"/><circle cx="759.5" cy="235.3" r="1.60"/><circle cx="760.2" cy="235.7" r="1.60"/><circle cx="760.8" cy="236.1" r="1.60"/><circle cx="761.5" cy="236.4" r="1.60"/><circle cx="762.2" cy="236.8" r="1.60"/><circle cx="762.8" cy="237.1" r="1.60"/><circle cx="763.5" cy="237.4" r="1.60"/><circle cx="764.1" cy="237.8" r="1.60"/><circle cx="764.8" cy="238.1" r="1.60"/><circle cx="765.5" cy="238.4" r="1.60"/><circle cx="766.1" cy="238.7" r="1.60"/><circle cx="766.8" cy="239.0" r="1.60"/><circle cx="767.4" cy="239.3" r="1.60"/><circle cx="768.1" cy="239.6" r="1.60"/><circle cx="768.8" cy="239.8" r="1.60"/><circle cx="769.4" cy="240.1" r="1.60"/><circle cx="770.1" cy="240.4" r="1.60"/><circle cx="770.7" cy="240.7" r="1.60"/><circle cx="771.4" cy="240.9" r="1.60"/><circle cx="772.1" cy="241.2" r="1.60"/><circle cx="772.7" cy="241.5" r="1.60"/><circle cx="773.4" cy="241.7" r="1.60"/><circle cx="774.0" cy="242.0" r="1.60"/><circle cx="774.7" cy="242.3" r="1.60"/><circle cx="775.4" cy="242.5" r="1.60"/><circle cx="776.0" cy="242.8" r="1.60"/><circle cx="776.7" cy="243.1" r="1.60"/><circle cx="777.3" cy="243.4" r="1.60"/><circle cx="778.0" cy="243.7" r="1.60"/><circle cx="778.7" cy="243.9" r="1.60"/><circle cx="779.3" cy="244.2" r="1.60"/><circle cx="780.0" cy="244.5" r="1.60"/><circle cx="780.6" cy="244.8" r="1.60"/><circle cx="781.3" cy="245.1" r="1.60"/><circle cx="782.0" cy="245.3" r="1.60"/><circle cx="782.6" cy="245.6" r="1.60"/><circle cx="783.3" cy="245.9" r="1.60"/><circle cx="783.9" cy="246.3" r="1.60"/><circle cx="784.6" cy="246.6" r="1.60"/><circle cx="785.3" cy="246.9" r="1.60"/><circle cx="785.9" cy="247.2" r="1.60"/><circle cx="786.6" cy="247.6" r="1.60"/><circle cx="787.2" cy="247.9" r="1.59"/><circle cx="787.9" cy="248.3" r="1.59"/><circle cx="788.6" cy="248.6" r="1.59"/><circle cx="789.2" cy="248.9" r="1.59"/><circle cx="789.9" cy="249.3" r="1.59"/><circle cx="790.5" cy="249.7" r="1.58"/><circle cx="791.2" cy="250.1" r="1.58"/><circle cx="791.9" cy="250.6" r="1.58"/><circle cx="792.5" cy="251.0" r="1.58"/><circle cx="793.2" cy="251.5" r="1.58"/><circle cx="793.8" cy="252.0" r="1.58"/><circle cx="794.5" cy="252.4" r="1.57"/><circle cx="795.2" cy="252.9" r="1.57"/><circle cx="795.8" cy="253.4" r="1.57"/><circle cx="796.5" cy="253.9" r="1.57"/><circle cx="797.1" cy="254.4" r="1.57"/><circle cx="797.8" cy="254.9" r="1.57"/><circle cx="798.5" cy="255.4" r="1.56"/><circle cx="799.1" cy="255.9" r="1.56"/><circle cx="799.8" cy="256.4" r="1.56"/><circle cx="800.4" cy="257.0" r="1.56"/><circle cx="801.1" cy="257.5" r="1.56"/><circle cx="801.8" cy="258.0" r="1.55"/><circle cx="802.4" cy="258.5" r="1.55"/><circle cx="803.1" cy="259.0" r="1.55"/><circle cx="803.7" cy="259.5" r="1.55"/><circle cx="804.4" cy="260.0" r="1.55"/><circle cx="805.1" cy="260.5" r="1.55"/><circle cx="805.7" cy="261.0" r="1.54"/><circle cx="806.4" cy="261.5" r="1.54"/><circle cx="807.0" cy="262.0" r="1.54"/><circle cx="807.7" cy="262.4" r="1.54"/><circle cx="808.4" cy="262.9" r="1.54"/><circle cx="809.0" cy="263.3" r="1.53"/><circle cx="809.7" cy="263.8" r="1.53"/><circle cx="810.3" cy="264.3" r="1.53"/><circle cx="811.0" cy="264.7" r="1.53"/><circle cx="811.7" cy="265.2" r="1.53"/><circle cx="812.3" cy="265.7" r="1.53"/><circle cx="813.0" cy="266.2" r="1.52"/><circle cx="813.6" cy="266.7" r="1.52"/><circle cx="814.3" cy="267.2" r="1.52"/><circle cx="815.0" cy="267.6" r="1.52"/><circle cx="815.6" cy="268.1" r="1.52"/><circle cx="816.3" cy="268.5" r="1.51"/><circle cx="816.9" cy="268.9" r="1.51"/><circle cx="817.6" cy="269.4" r="1.51"/><circle cx="818.3" cy="269.7" r="1.51"/><circle cx="818.9" cy="270.1" r="1.51"/><circle cx="819.6" cy="270.4" r="1.51"/><circle cx="820.2" cy="270.7" r="1.50"/><circle cx="820.9" cy="271.0" r="1.50"/><circle cx="821.6" cy="271.2" r="1.50"/><circle cx="822.2" cy="271.5" r="1.50"/><circle cx="822.9" cy="271.7" r="1.50"/><circle cx="823.5" cy="271.9" r="1.49"/><circle cx="824.2" cy="272.1" r="1.49"/><circle cx="824.9" cy="272.2" r="1.49"/><circle cx="825.5" cy="272.4" r="1.49"/><circle cx="826.2" cy="272.5" r="1.49"/><circle cx="826.8" cy="272.7" r="1.49"/><circle cx="827.5" cy="272.8" r="1.48"/><circle cx="828.2" cy="272.9" r="1.48"/><circle cx="828.8" cy="273.0" r="1.48"/><circle cx="829.5" cy="273.1" r="1.48"/><circle cx="830.1" cy="273.1" r="1.48"/><circle cx="830.8" cy="273.1" r="1.48"/><circle cx="831.5" cy="273.1" r="1.47"/><circle cx="832.1" cy="273.1" r="1.47"/><circle cx="832.8" cy="273.1" r="1.47"/><circle cx="833.4" cy="273.0" r="1.47"/><circle cx="834.1" cy="273.0" r="1.47"/><circle cx="834.8" cy="272.9" r="1.46"/><circle cx="835.4" cy="272.8" r="1.46"/><circle cx="836.1" cy="272.7" r="1.46"/><circle cx="836.7" cy="272.6" r="1.46"/><circle cx="837.4" cy="272.5" r="1.46"/><circle cx="838.1" cy="272.4" r="1.46"/><circle cx="838.7" cy="272.3" r="1.45"/><circle cx="839.4" cy="272.2" r="1.45"/><circle cx="840.0" cy="272.1" r="1.45"/><circle cx="840.7" cy="272.0" r="1.45"/><circle cx="841.4" cy="271.9" r="1.45"/><circle cx="842.0" cy="271.8" r="1.45"/><circle cx="842.7" cy="271.7" r="1.45"/><circle cx="843.3" cy="271.6" r="1.45"/><circle cx="844.0" cy="271.6" r="1.45"/><circle cx="844.7" cy="271.4" r="1.45"/><circle cx="845.3" cy="271.3" r="1.45"/><circle cx="846.0" cy="271.3" r="1.45"/><circle cx="846.6" cy="271.2" r="1.45"/><circle cx="847.3" cy="271.1" r="1.45"/><circle cx="848.0" cy="271.0" r="1.45"/><circle cx="848.6" cy="271.0" r="1.45"/><circle cx="849.3" cy="270.9" r="1.45"/><circle cx="849.9" cy="270.7" r="1.45"/><circle cx="850.6" cy="270.7" r="1.45"/><circle cx="851.3" cy="270.6" r="1.45"/><circle cx="851.9" cy="270.5" r="1.45"/><circle cx="852.6" cy="270.4" r="1.45"/><circle cx="853.2" cy="270.4" r="1.45"/><circle cx="853.9" cy="270.1" r="1.45"/><circle cx="854.6" cy="270.1" r="1.45"/><circle cx="855.2" cy="270.1" r="1.45"/><circle cx="855.9" cy="270.0" r="1.45"/><circle cx="856.5" cy="270.0" r="1.45"/><circle cx="857.2" cy="269.8" r="1.45"/><circle cx="857.9" cy="269.7" r="1.45"/><circle cx="858.5" cy="269.8" r="1.45"/><circle cx="859.2" cy="269.5" r="1.45"/><circle cx="859.8" cy="269.5" r="1.45"/><circle cx="860.5" cy="269.4" r="1.45"/><circle cx="861.2" cy="269.4" r="1.45"/><circle cx="861.8" cy="269.1" r="1.45"/><circle cx="862.5" cy="269.3" r="1.45"/><circle cx="863.1" cy="269.1" r="1.45"/><circle cx="863.8" cy="269.0" r="1.45"/><circle cx="864.5" cy="268.9" r="1.45"/><circle cx="865.1" cy="269.1" r="1.45"/><circle cx="865.8" cy="269.0" r="1.45"/><circle cx="866.4" cy="268.8" r="1.45"/><circle cx="867.1" cy="268.6" r="1.45"/><circle cx="867.8" cy="268.9" r="1.45"/><circle cx="868.4" cy="268.4" r="1.45"/><circle cx="869.1" cy="268.3" r="1.45"/><circle cx="869.7" cy="268.5" r="1.45"/><circle cx="870.4" cy="268.5" r="1.45"/><circle cx="871.1" cy="268.2" r="1.45"/><circle cx="871.7" cy="268.2" r="1.45"/><circle cx="872.4" cy="268.1" r="1.45"/><circle cx="873.0" cy="268.2" r="1.45"/><circle cx="873.7" cy="268.1" r="1.45"/><circle cx="874.4" cy="268.1" r="1.45"/><circle cx="875.0" cy="268.1" r="1.45"/><circle cx="875.7" cy="268.2" r="1.45"/><circle cx="876.3" cy="268.1" r="1.45"/><circle cx="877.0" cy="268.5" r="1.45"/><circle cx="877.7" cy="268.2" r="1.45"/><circle cx="878.3" cy="268.1" r="1.45"/><circle cx="879.0" cy="268.4" r="1.45"/><circle cx="879.6" cy="268.5" r="1.45"/><circle cx="880.3" cy="268.3" r="1.45"/><circle cx="881.0" cy="268.0" r="1.45"/><circle cx="881.6" cy="268.5" r="1.45"/><circle cx="882.3" cy="268.6" r="1.45"/><circle cx="882.9" cy="268.8" r="1.45"/><circle cx="883.6" cy="268.7" r="1.45"/><circle cx="884.3" cy="268.6" r="1.45"/><circle cx="884.9" cy="268.5" r="1.45"/><circle cx="885.6" cy="268.4" r="1.45"/><circle cx="886.2" cy="268.3" r="1.45"/><circle cx="886.9" cy="269.0" r="1.45"/><circle cx="887.6" cy="268.8" r="1.45"/><circle cx="888.2" cy="268.7" r="1.45"/><circle cx="888.9" cy="268.6" r="1.45"/><circle cx="889.5" cy="268.8" r="1.45"/><circle cx="890.2" cy="269.3" r="1.45"/><circle cx="890.9" cy="268.9" r="1.45"/><circle cx="891.5" cy="268.8" r="1.45"/><circle cx="892.2" cy="269.1" r="1.45"/><circle cx="892.8" cy="269.2" r="1.45"/><circle cx="893.5" cy="269.6" r="1.45"/><circle cx="894.2" cy="269.6" r="1.45"/><circle cx="894.8" cy="269.6" r="1.45"/><circle cx="895.5" cy="270.1" r="1.45"/><circle cx="896.1" cy="270.1" r="1.45"/><circle cx="896.8" cy="269.5" r="1.45"/><circle cx="897.5" cy="269.7" r="1.45"/><circle cx="898.1" cy="270.0" r="1.45"/><circle cx="898.8" cy="269.8" r="1.45"/><circle cx="899.4" cy="270.6" r="1.45"/><circle cx="900.1" cy="270.7" r="1.45"/><circle cx="900.8" cy="270.4" r="1.45"/><circle cx="901.4" cy="271.1" r="1.45"/><circle cx="902.1" cy="270.9" r="1.45"/><circle cx="902.7" cy="270.7" r="1.45"/><circle cx="903.4" cy="271.2" r="1.45"/><circle cx="904.1" cy="271.4" r="1.45"/><circle cx="904.7" cy="271.6" r="1.45"/><circle cx="905.4" cy="272.0" r="1.45"/><circle cx="906.0" cy="272.1" r="1.45"/><circle cx="906.7" cy="271.6" r="1.45"/><circle cx="907.4" cy="271.8" r="1.45"/><circle cx="908.0" cy="271.5" r="1.45"/><circle cx="908.7" cy="272.0" r="1.45"/><circle cx="909.3" cy="271.9" r="1.45"/><circle cx="910.0" cy="272.0" r="1.45"/><circle cx="910.7" cy="272.9" r="1.45"/><circle cx="911.3" cy="272.1" r="1.45"/><circle cx="912.0" cy="272.4" r="1.45"/><circle cx="912.6" cy="273.2" r="1.45"/><circle cx="913.3" cy="273.2" r="1.45"/><circle cx="914.0" cy="273.2" r="1.45"/><circle cx="914.6" cy="273.8" r="1.45"/><circle cx="915.3" cy="273.2" r="1.45"/><circle cx="915.9" cy="273.3" r="1.45"/><circle cx="916.6" cy="273.9" r="1.45"/><circle cx="917.3" cy="273.5" r="1.45"/><circle cx="917.9" cy="274.4" r="1.45"/><circle cx="918.6" cy="274.9" r="1.45"/><circle cx="919.2" cy="274.9" r="1.45"/><circle cx="919.9" cy="275.1" r="1.45"/><circle cx="920.6" cy="274.2" r="1.45"/><circle cx="921.2" cy="274.8" r="1.45"/><circle cx="921.9" cy="275.7" r="1.45"/><circle cx="922.5" cy="275.7" r="1.45"/><circle cx="923.2" cy="275.5" r="1.45"/><circle cx="923.9" cy="275.8" r="1.45"/><circle cx="924.5" cy="275.4" r="1.45"/><circle cx="925.2" cy="275.5" r="1.45"/><circle cx="925.8" cy="275.4" r="1.45"/><circle cx="926.5" cy="276.8" r="1.45"/><circle cx="927.2" cy="276.0" r="1.45"/><circle cx="927.8" cy="277.2" r="1.45"/><circle cx="928.5" cy="275.9" r="1.45"/><circle cx="929.1" cy="277.2" r="1.45"/><circle cx="929.8" cy="277.0" r="1.45"/><circle cx="930.5" cy="276.4" r="1.45"/><circle cx="931.1" cy="277.5" r="1.45"/><circle cx="931.8" cy="277.7" r="1.45"/><circle cx="932.4" cy="277.8" r="1.45"/><circle cx="933.1" cy="278.0" r="1.45"/><circle cx="933.8" cy="278.1" r="1.45"/><circle cx="934.4" cy="278.4" r="1.45"/><circle cx="935.1" cy="277.9" r="1.45"/><circle cx="935.7" cy="279.0" r="1.45"/><circle cx="936.4" cy="278.4" r="1.45"/><circle cx="937.1" cy="278.1" r="1.45"/><circle cx="937.7" cy="279.5" r="1.45"/><circle cx="938.4" cy="278.4" r="1.45"/><circle cx="939.0" cy="278.8" r="1.45"/><circle cx="939.7" cy="279.4" r="1.45"/><circle cx="940.4" cy="279.7" r="1.45"/><circle cx="941.0" cy="279.0" r="1.45"/><circle cx="941.7" cy="278.7" r="1.45"/><circle cx="942.3" cy="279.7" r="1.45"/><circle cx="943.0" cy="279.9" r="1.45"/><circle cx="943.7" cy="280.3" r="1.45"/><circle cx="944.3" cy="279.6" r="1.45"/><circle cx="945.0" cy="280.7" r="1.45"/><circle cx="945.6" cy="280.7" r="1.45"/><circle cx="946.3" cy="281.0" r="1.45"/><circle cx="947.0" cy="281.0" r="1.45"/><circle cx="947.6" cy="280.9" r="1.45"/><circle cx="948.3" cy="280.8" r="1.45"/><circle cx="948.9" cy="281.5" r="1.45"/><circle cx="949.6" cy="280.4" r="1.45"/><circle cx="950.3" cy="281.4" r="1.45"/><circle cx="950.9" cy="281.7" r="1.45"/><circle cx="951.6" cy="281.8" r="1.45"/><circle cx="952.2" cy="280.6" r="1.45"/><circle cx="952.9" cy="281.1" r="1.45"/><circle cx="953.6" cy="282.4" r="1.45"/><circle cx="954.2" cy="282.2" r="1.45"/><circle cx="954.9" cy="281.0" r="1.45"/><circle cx="955.5" cy="281.8" r="1.45"/><circle cx="956.2" cy="282.5" r="1.45"/><circle cx="956.9" cy="282.6" r="1.45"/><circle cx="957.5" cy="282.0" r="1.45"/><circle cx="958.2" cy="281.2" r="1.45"/><circle cx="958.8" cy="281.5" r="1.45"/><circle cx="959.5" cy="281.1" r="1.45"/><circle cx="960.2" cy="281.5" r="1.45"/><circle cx="960.8" cy="281.3" r="1.45"/><circle cx="961.5" cy="282.6" r="1.45"/><circle cx="962.1" cy="282.7" r="1.45"/><circle cx="962.8" cy="282.2" r="1.45"/><circle cx="963.5" cy="283.1" r="1.45"/><circle cx="964.1" cy="281.6" r="1.45"/><circle cx="964.8" cy="281.7" r="1.45"/><circle cx="965.4" cy="282.6" r="1.45"/><circle cx="966.1" cy="282.4" r="1.45"/><circle cx="966.8" cy="281.6" r="1.45"/><circle cx="967.4" cy="283.3" r="1.45"/></g>
<path d="M660.0 239.6 L660.7 239.4 L661.6 238.9 L662.1 238.4 L662.6 237.8 L663.2 237.1 L663.8 236.4 L664.5 235.5 L665.0 234.9 L665.4 234.3 L665.9 233.6 L666.5 232.9 L667.0 232.2 L667.5 231.5 L668.0 230.7 L668.5 230.0 L668.9 229.3 L669.3 228.7 L669.7 228.0 L670.1 227.3 L670.5 226.5 L670.9 225.8 L671.2 225.1 L671.6 224.3 L672.0 223.5 L672.4 222.8 L672.7 222.0 L673.0 221.2 L673.4 220.4 L673.8 219.6 L674.1 218.8 L674.5 217.9 L674.8 217.1 L675.1 216.3 L675.5 215.5 L675.9 214.7 L676.2 213.9 L676.6 213.0 L676.9 212.2 L677.3 211.3 L677.6 210.5 L678.0 209.7 L678.3 208.9 L678.7 208.2 L679.0 207.5 L679.5 206.6 L679.9 205.6 L680.4 204.8 L680.8 204.0 L681.2 203.2 L681.6 202.6 L682.0 202.0 L682.8 201.0 L683.6 200.4 L684.3 200.2 L685.0 200.5 L685.7 201.3 L686.5 202.5 L686.8 203.1 L687.1 203.7 L687.4 204.5 L687.7 205.3 L688.0 206.1 L688.3 206.9 L688.7 207.7 L689.0 208.5 L689.4 209.3 L689.7 210.1 L690.1 210.9 L690.5 211.7 L690.9 212.5 L691.3 213.2 L691.7 213.9 L692.0 214.5 L692.6 215.4 L693.1 216.1 L693.6 216.8 L694.1 217.6 L694.5 218.3 L694.9 219.0 L695.2 219.8 L695.6 220.6 L696.1 221.4 L696.5 222.0 L697.2 222.8 L698.0 223.5 L698.7 224.0 L699.5 224.3 L700.4 224.4 L701.4 224.2 L702.3 223.8 L703.0 223.4 L703.8 222.9 L704.5 222.4 L705.3 221.9 L706.1 221.5 L706.8 221.1 L707.6 220.7 L708.3 220.6 L709.2 220.7 L710.1 221.1 L711.0 221.6 L711.6 222.0 L712.2 222.6 L712.8 223.2 L713.4 223.7 L714.0 224.3 L714.7 225.0 L715.3 225.7 L715.9 226.3 L716.5 226.8 L717.3 227.3 L718.0 227.6 L718.8 227.6 L719.6 227.4 L720.5 226.9 L721.5 226.0 L722.0 225.4 L722.5 224.8 L723.0 224.0 L723.5 223.2 L724.0 222.4 L724.5 221.6 L725.0 221.0 L725.6 220.3 L726.2 219.6 L726.8 219.1 L727.4 218.6 L728.0 218.2 L728.9 217.6 L729.9 217.1 L730.8 217.0 L731.5 217.2 L732.2 217.6 L732.9 218.1 L733.6 218.8 L734.1 219.4 L734.6 220.1 L735.2 220.8 L735.7 221.6 L736.1 222.3 L736.5 222.8 L737.0 223.6 L737.5 224.2 L738.1 224.8 L738.9 225.5 L739.7 226.2 L740.5 226.8 L741.5 227.3 L742.5 227.6 L743.5 227.8 L744.5 227.7 L745.5 227.5 L746.5 227.4 L747.5 227.3 L748.5 227.4 L749.5 227.6 L750.1 227.9 L750.8 228.2 L751.4 228.6 L752.2 229.2 L753.0 229.8 L753.6 230.3 L754.2 230.8 L754.9 231.5 L755.6 232.1 L756.3 232.8 L757.0 233.4 L757.7 234.0 L758.3 234.5 L759.1 235.1 L759.9 235.6 L760.7 236.0 L761.4 236.4 L762.2 236.8 L763.0 237.2 L763.7 237.6 L764.4 237.9 L765.1 238.2 L765.8 238.6 L766.6 238.9 L767.4 239.2 L768.2 239.6 L768.9 239.9 L769.6 240.2 L770.3 240.5 L771.1 240.8 L771.9 241.1 L772.6 241.4 L773.4 241.7 L774.2 242.1 L775.0 242.4 L775.8 242.7 L776.6 243.1 L777.5 243.4 L778.4 243.8 L779.2 244.2 L780.0 244.5 L780.8 244.9 L781.6 245.2 L782.3 245.5 L783.2 245.9 L784.1 246.3 L784.9 246.7 L785.6 247.1 L786.3 247.4 L787.0 247.8 L787.8 248.2 L788.5 248.6 L789.2 248.9 L789.9 249.3 L790.7 249.8 L791.4 250.2 L792.1 250.7 L792.8 251.2 L793.6 251.7 L794.3 252.3 L795.0 252.8 L795.7 253.3 L796.3 253.8 L797.0 254.3 L797.7 254.8 L798.4 255.4 L799.2 256.0 L799.8 256.4 L800.4 256.9 L801.0 257.4 L801.7 257.9 L802.4 258.5 L803.0 259.0 L803.7 259.5 L804.4 260.0 L805.0 260.5 L805.7 261.0 L806.4 261.5 L807.1 262.0 L807.7 262.5 L808.4 262.9 L809.1 263.4 L809.7 263.8 L810.4 264.3 L811.1 264.8 L811.9 265.4 L812.6 266.0 L813.4 266.5 L814.1 267.0 L814.8 267.5 L815.5 268.0 L816.3 268.5 L817.0 269.0 L817.7 269.4 L818.4 269.8 L819.2 270.2 L820.0 270.6 L820.8 270.9 L821.6 271.2 L822.5 271.5 L823.3 271.8 L824.2 272.1 L825.1 272.3 L826.0 272.5 L826.9 272.7 L827.7 272.8 L828.5 272.9 L829.3 273.0 L830.2 273.1 L831.2 273.1 L832.3 273.1 L833.0 273.1 L833.7 273.0 L834.4 272.9 L835.2 272.8 L836.0 272.7 L836.8 272.6 L837.7 272.5 L838.5 272.3 L839.4 272.2 L840.2 272.1 L841.1 271.9 L842.0 271.8 L842.8 271.7 L843.5 271.6 L844.3 271.5 L845.2 271.4 L846.0 271.3 L846.8 271.2 L847.6 271.1 L848.5 270.9 L849.3 270.8 L850.2 270.7 L851.0 270.6 L851.8 270.5 L852.6 270.4 L853.4 270.3 L854.2 270.2 L855.1 270.1 L855.9 270.0 L856.7 269.9 L857.5 269.8 L858.4 269.7 L859.2 269.5 L860.0 269.4 L860.8 269.3 L861.6 269.3 L862.4 269.2 L863.2 269.1 L864.0 269.0 L864.8 268.9 L865.6 268.8 L866.4 268.8 L867.2 268.7 L868.0 268.6 L868.9 268.6 L869.7 268.5 L870.5 268.5 L871.3 268.4 L872.1 268.4 L872.9 268.3 L873.7 268.3 L874.5 268.3 L875.3 268.3 L876.1 268.3 L876.9 268.3 L877.7 268.3 L878.5 268.3 L879.3 268.3 L880.1 268.4 L881.0 268.4 L881.8 268.4 L882.6 268.5 L883.4 268.5 L884.2 268.5 L885.0 268.6 L885.8 268.7 L886.6 268.7 L887.4 268.8 L888.3 268.9 L889.1 268.9 L889.9 269.0 L890.7 269.1 L891.5 269.2 L892.3 269.3 L893.2 269.4 L894.0 269.5 L894.8 269.6 L895.6 269.7 L896.4 269.8 L897.2 269.9 L898.0 270.1 L898.8 270.2 L899.6 270.4 L900.4 270.5 L901.2 270.7 L902.0 270.8 L902.8 271.0 L903.6 271.1 L904.4 271.3 L905.2 271.4 L906.0 271.6 L906.8 271.8 L907.6 271.9 L908.5 272.1 L909.3 272.3 L910.2 272.5 L911.0 272.6 L911.8 272.8 L912.7 273.0 L913.5 273.2 L914.3 273.4 L915.2 273.5 L916.0 273.7 L916.8 273.9 L917.6 274.1 L918.4 274.3 L919.2 274.4 L920.0 274.6 L920.7 274.8 L921.5 275.0 L922.3 275.2 L923.1 275.4 L923.8 275.6 L924.6 275.7 L925.4 275.9 L926.2 276.1 L927.0 276.3 L927.8 276.5 L928.7 276.7 L929.5 276.9 L930.4 277.1 L931.2 277.3 L932.1 277.4 L932.9 277.6 L933.8 277.8 L934.7 278.0 L935.5 278.2 L936.3 278.4 L937.1 278.5 L937.9 278.7 L938.8 278.9 L939.7 279.1 L940.5 279.3 L941.4 279.4 L942.2 279.6 L943.1 279.8 L943.9 279.9 L944.7 280.1 L945.4 280.2 L946.2 280.4 L947.0 280.5 L947.9 280.7 L948.9 280.8 L949.8 281.0 L950.6 281.1 L951.5 281.2 L952.4 281.4 L953.2 281.5 L954.0 281.6 L954.8 281.7 L955.8 281.8 L956.7 281.9 L957.6 282.0 L958.4 282.0 L959.3 282.1 L960.1 282.2 L961.0 282.2 L961.8 282.2 L962.6 282.3 L963.4 282.3 L964.2 282.3 L965.0 282.3 L965.9 282.4 L966.7 282.4 L967.5 282.4" fill="none" stroke="#3a3a3a" stroke-width="0.9" stroke-linejoin="round" stroke-linecap="round"/>
<path d="M642.6 254.3 L643.2 253.7 L643.7 253.1 L644.3 252.6 L644.8 252.0 L645.4 251.4 L646.0 250.8 L646.6 250.2 L647.3 249.6 L647.9 248.9 L648.6 248.3 L649.2 247.7 L649.8 247.1 L650.5 246.4 L651.1 245.8 L651.8 245.2 L652.4 244.6 L653.0 244.0 L653.8 243.4 L654.5 242.8 L655.3 242.2 L656.1 241.7 L656.8 241.3 L657.6 240.8 L658.4 240.4 L659.2 240.0 L660.0 239.6" fill="none" stroke="#444" stroke-width="1.25" stroke-linejoin="round" stroke-linecap="round"/>
<g fill="none" stroke="#383838" stroke-width="0.48"><circle cx="641.7" cy="314.3" r="1.45"/><circle cx="642.4" cy="313.4" r="1.45"/><circle cx="643.1" cy="312.5" r="1.45"/><circle cx="643.7" cy="311.6" r="1.45"/><circle cx="644.4" cy="310.7" r="1.45"/><circle cx="645.1" cy="309.9" r="1.45"/><circle cx="645.8" cy="309.1" r="1.45"/><circle cx="646.5" cy="308.2" r="1.45"/><circle cx="647.1" cy="307.4" r="1.45"/><circle cx="647.8" cy="306.6" r="1.45"/><circle cx="648.5" cy="305.8" r="1.45"/><circle cx="649.2" cy="305.0" r="1.45"/><circle cx="649.9" cy="304.1" r="1.45"/><circle cx="650.5" cy="303.2" r="1.45"/><circle cx="651.2" cy="302.3" r="1.45"/><circle cx="651.9" cy="301.3" r="1.45"/><circle cx="652.6" cy="300.4" r="1.45"/><circle cx="653.3" cy="299.5" r="1.45"/><circle cx="653.9" cy="298.6" r="1.45"/><circle cx="654.6" cy="297.6" r="1.45"/><circle cx="655.3" cy="296.7" r="1.45"/><circle cx="655.9" cy="295.6" r="1.45"/><circle cx="656.5" cy="294.6" r="1.45"/><circle cx="657.0" cy="293.5" r="1.45"/><circle cx="657.5" cy="292.4" r="1.45"/><circle cx="657.9" cy="291.3" r="1.45"/><circle cx="658.4" cy="290.2" r="1.45"/><circle cx="658.8" cy="289.0" r="1.45"/><circle cx="659.2" cy="287.9" r="1.45"/><circle cx="659.6" cy="286.8" r="1.45"/><circle cx="660.0" cy="285.7" r="1.45"/><circle cx="660.4" cy="284.5" r="1.45"/><circle cx="660.8" cy="283.4" r="1.45"/><circle cx="661.2" cy="282.2" r="1.45"/><circle cx="661.5" cy="281.1" r="1.45"/><circle cx="661.8" cy="279.9" r="1.45"/><circle cx="662.1" cy="278.8" r="1.45"/><circle cx="662.4" cy="277.6" r="1.45"/><circle cx="662.7" cy="276.4" r="1.45"/><circle cx="662.9" cy="275.3" r="1.45"/><circle cx="663.2" cy="274.1" r="1.45"/><circle cx="663.4" cy="272.9" r="1.45"/><circle cx="663.7" cy="271.7" r="1.45"/><circle cx="663.9" cy="270.6" r="1.45"/><circle cx="664.1" cy="269.4" r="1.45"/><circle cx="664.4" cy="268.2" r="1.45"/><circle cx="664.6" cy="267.0" r="1.45"/><circle cx="664.8" cy="265.9" r="1.45"/><circle cx="665.1" cy="264.7" r="1.45"/><circle cx="665.3" cy="263.5" r="1.45"/><circle cx="665.5" cy="262.3" r="1.45"/><circle cx="665.8" cy="261.1" r="1.45"/><circle cx="666.0" cy="260.0" r="1.45"/><circle cx="666.3" cy="258.8" r="1.45"/><circle cx="666.5" cy="257.6" r="1.45"/><circle cx="666.8" cy="256.4" r="1.45"/><circle cx="667.1" cy="255.3" r="1.45"/><circle cx="667.4" cy="254.1" r="1.45"/><circle cx="667.7" cy="253.0" r="1.45"/><circle cx="668.2" cy="251.9" r="1.45"/><circle cx="668.9" cy="251.9" r="1.45"/><circle cx="669.4" cy="253.0" r="1.45"/><circle cx="669.8" cy="254.1" r="1.45"/><circle cx="670.2" cy="255.2" r="1.45"/><circle cx="670.4" cy="256.4" r="1.45"/><circle cx="670.7" cy="257.6" r="1.45"/><circle cx="670.9" cy="258.8" r="1.45"/><circle cx="671.2" cy="259.9" r="1.45"/><circle cx="671.4" cy="261.1" r="1.45"/><circle cx="671.7" cy="262.3" r="1.45"/><circle cx="671.9" cy="263.5" r="1.45"/><circle cx="672.1" cy="264.6" r="1.45"/><circle cx="672.3" cy="265.8" r="1.45"/><circle cx="672.6" cy="267.0" r="1.45"/><circle cx="672.9" cy="268.2" r="1.45"/><circle cx="673.1" cy="269.3" r="1.45"/><circle cx="673.4" cy="270.5" r="1.45"/><circle cx="673.7" cy="271.7" r="1.45"/><circle cx="674.0" cy="272.8" r="1.45"/><circle cx="674.3" cy="274.0" r="1.45"/><circle cx="674.6" cy="275.1" r="1.45"/><circle cx="674.9" cy="276.3" r="1.45"/><circle cx="675.3" cy="277.5" r="1.45"/><circle cx="675.6" cy="278.6" r="1.45"/><circle cx="676.0" cy="279.7" r="1.45"/><circle cx="676.5" cy="280.8" r="1.45"/><circle cx="677.1" cy="281.9" r="1.45"/><circle cx="677.7" cy="282.8" r="1.45"/><circle cx="678.4" cy="283.2" r="1.45"/><circle cx="679.1" cy="283.2" r="1.45"/><circle cx="679.8" cy="282.8" r="1.45"/><circle cx="680.5" cy="282.4" r="1.45"/><circle cx="681.1" cy="281.8" r="1.45"/><circle cx="681.8" cy="281.2" r="1.45"/><circle cx="682.5" cy="280.5" r="1.45"/><circle cx="683.2" cy="279.7" r="1.45"/><circle cx="683.9" cy="279.0" r="1.45"/><circle cx="684.5" cy="278.5" r="1.45"/><circle cx="685.2" cy="278.0" r="1.45"/><circle cx="685.9" cy="277.6" r="1.45"/><circle cx="686.6" cy="277.3" r="1.45"/><circle cx="687.3" cy="277.1" r="1.45"/><circle cx="687.9" cy="277.0" r="1.45"/><circle cx="688.6" cy="277.2" r="1.45"/><circle cx="689.3" cy="277.7" r="1.45"/><circle cx="690.0" cy="278.3" r="1.45"/><circle cx="690.7" cy="278.8" r="1.45"/><circle cx="691.3" cy="279.6" r="1.45"/><circle cx="692.0" cy="280.4" r="1.45"/><circle cx="692.7" cy="281.1" r="1.45"/><circle cx="693.4" cy="281.4" r="1.45"/><circle cx="694.1" cy="281.3" r="1.45"/><circle cx="694.7" cy="280.8" r="1.45"/><circle cx="695.4" cy="280.1" r="1.45"/><circle cx="696.1" cy="279.1" r="1.45"/><circle cx="696.7" cy="278.1" r="1.45"/><circle cx="697.2" cy="277.0" r="1.45"/><circle cx="697.8" cy="275.9" r="1.45"/><circle cx="698.3" cy="274.9" r="1.45"/><circle cx="698.9" cy="273.9" r="1.45"/><circle cx="699.5" cy="272.8" r="1.45"/><circle cx="700.2" cy="271.8" r="1.45"/><circle cx="700.9" cy="271.0" r="1.45"/><circle cx="701.6" cy="270.6" r="1.45"/><circle cx="702.2" cy="270.7" r="1.45"/><circle cx="702.9" cy="271.0" r="1.45"/><circle cx="703.6" cy="271.6" r="1.45"/><circle cx="704.3" cy="272.4" r="1.45"/><circle cx="705.0" cy="273.4" r="1.45"/><circle cx="705.6" cy="274.3" r="1.45"/><circle cx="706.3" cy="275.2" r="1.45"/><circle cx="707.0" cy="276.0" r="1.45"/><circle cx="707.7" cy="276.7" r="1.45"/><circle cx="708.3" cy="277.3" r="1.45"/><circle cx="709.0" cy="277.7" r="1.45"/><circle cx="709.7" cy="277.9" r="1.45"/><circle cx="710.4" cy="277.9" r="1.45"/><circle cx="711.1" cy="277.9" r="1.45"/><circle cx="711.7" cy="277.9" r="1.45"/><circle cx="712.4" cy="277.7" r="1.45"/><circle cx="713.1" cy="277.6" r="1.45"/><circle cx="713.8" cy="277.6" r="1.45"/><circle cx="714.5" cy="277.8" r="1.45"/><circle cx="715.1" cy="278.2" r="1.45"/><circle cx="715.8" cy="278.6" r="1.45"/><circle cx="716.5" cy="279.1" r="1.45"/><circle cx="717.2" cy="279.6" r="1.45"/><circle cx="717.9" cy="280.1" r="1.45"/><circle cx="718.5" cy="280.7" r="1.45"/><circle cx="719.2" cy="281.2" r="1.45"/><circle cx="719.9" cy="281.7" r="1.45"/><circle cx="720.6" cy="282.2" r="1.45"/><circle cx="721.3" cy="282.6" r="1.45"/><circle cx="721.9" cy="283.0" r="1.45"/><circle cx="722.6" cy="283.4" r="1.45"/><circle cx="723.3" cy="283.7" r="1.45"/><circle cx="724.0" cy="284.0" r="1.45"/><circle cx="724.7" cy="284.3" r="1.45"/><circle cx="725.3" cy="284.6" r="1.45"/><circle cx="726.0" cy="284.8" r="1.45"/><circle cx="726.7" cy="285.0" r="1.45"/><circle cx="727.4" cy="285.2" r="1.45"/><circle cx="728.1" cy="285.3" r="1.45"/><circle cx="728.7" cy="285.5" r="1.45"/><circle cx="729.4" cy="285.6" r="1.45"/><circle cx="730.1" cy="285.7" r="1.45"/><circle cx="730.8" cy="285.8" r="1.45"/><circle cx="731.5" cy="285.9" r="1.45"/><circle cx="732.1" cy="286.0" r="1.44"/><circle cx="732.8" cy="286.1" r="1.44"/><circle cx="733.5" cy="286.1" r="1.44"/><circle cx="734.2" cy="286.2" r="1.44"/><circle cx="734.9" cy="286.2" r="1.44"/><circle cx="735.5" cy="286.2" r="1.44"/><circle cx="736.2" cy="286.2" r="1.43"/><circle cx="736.9" cy="286.2" r="1.43"/><circle cx="737.6" cy="286.2" r="1.43"/><circle cx="738.3" cy="286.2" r="1.43"/><circle cx="738.9" cy="286.2" r="1.43"/><circle cx="739.6" cy="286.2" r="1.43"/><circle cx="740.3" cy="286.1" r="1.42"/><circle cx="741.0" cy="286.1" r="1.42"/><circle cx="741.7" cy="286.1" r="1.42"/><circle cx="742.3" cy="286.1" r="1.42"/><circle cx="743.0" cy="286.2" r="1.42"/><circle cx="743.7" cy="286.3" r="1.42"/><circle cx="744.4" cy="286.5" r="1.41"/><circle cx="745.1" cy="286.8" r="1.41"/><circle cx="745.7" cy="287.1" r="1.41"/><circle cx="746.4" cy="287.4" r="1.41"/><circle cx="747.1" cy="287.7" r="1.41"/><circle cx="747.8" cy="288.2" r="1.41"/><circle cx="748.5" cy="288.6" r="1.40"/><circle cx="749.1" cy="289.1" r="1.40"/><circle cx="749.8" cy="289.5" r="1.40"/><circle cx="750.5" cy="289.8" r="1.40"/><circle cx="751.2" cy="290.2" r="1.40"/><circle cx="751.9" cy="290.5" r="1.40"/><circle cx="752.5" cy="290.8" r="1.39"/><circle cx="753.2" cy="291.2" r="1.39"/><circle cx="753.9" cy="291.5" r="1.39"/><circle cx="754.6" cy="291.8" r="1.39"/><circle cx="755.3" cy="292.1" r="1.39"/><circle cx="755.9" cy="292.5" r="1.39"/><circle cx="756.6" cy="292.8" r="1.38"/><circle cx="757.3" cy="293.2" r="1.38"/><circle cx="758.0" cy="293.5" r="1.38"/><circle cx="758.7" cy="293.9" r="1.38"/><circle cx="759.3" cy="294.2" r="1.38"/><circle cx="760.0" cy="294.6" r="1.37"/><circle cx="760.7" cy="294.9" r="1.37"/><circle cx="761.4" cy="295.3" r="1.37"/><circle cx="762.1" cy="295.7" r="1.37"/><circle cx="762.7" cy="296.0" r="1.37"/><circle cx="763.4" cy="296.4" r="1.37"/><circle cx="764.1" cy="296.7" r="1.36"/><circle cx="764.8" cy="297.1" r="1.36"/><circle cx="765.5" cy="297.4" r="1.36"/><circle cx="766.1" cy="297.8" r="1.36"/><circle cx="766.8" cy="298.1" r="1.36"/><circle cx="767.5" cy="298.5" r="1.36"/><circle cx="768.2" cy="298.8" r="1.35"/><circle cx="768.9" cy="299.2" r="1.35"/><circle cx="769.5" cy="299.5" r="1.35"/><circle cx="770.2" cy="299.9" r="1.35"/><circle cx="770.9" cy="300.2" r="1.35"/><circle cx="771.6" cy="300.6" r="1.35"/><circle cx="772.3" cy="300.9" r="1.34"/><circle cx="772.9" cy="301.3" r="1.34"/><circle cx="773.6" cy="301.6" r="1.34"/><circle cx="774.3" cy="302.0" r="1.34"/><circle cx="775.0" cy="302.3" r="1.34"/><circle cx="775.7" cy="302.6" r="1.34"/><circle cx="776.3" cy="303.0" r="1.33"/><circle cx="777.0" cy="303.3" r="1.33"/><circle cx="777.7" cy="303.6" r="1.33"/><circle cx="778.4" cy="304.0" r="1.33"/><circle cx="779.1" cy="304.3" r="1.33"/><circle cx="779.7" cy="304.6" r="1.33"/><circle cx="780.4" cy="305.0" r="1.32"/><circle cx="781.1" cy="305.4" r="1.32"/><circle cx="781.8" cy="305.8" r="1.32"/><circle cx="782.5" cy="306.2" r="1.32"/><circle cx="783.1" cy="306.6" r="1.32"/><circle cx="783.8" cy="307.0" r="1.32"/><circle cx="784.5" cy="307.5" r="1.31"/><circle cx="785.2" cy="308.0" r="1.31"/><circle cx="785.9" cy="308.5" r="1.31"/><circle cx="786.5" cy="309.0" r="1.31"/><circle cx="787.2" cy="309.6" r="1.31"/><circle cx="787.9" cy="310.1" r="1.31"/><circle cx="788.6" cy="310.7" r="1.30"/><circle cx="789.3" cy="311.2" r="1.30"/><circle cx="789.9" cy="311.8" r="1.30"/><circle cx="790.6" cy="312.3" r="1.30"/><circle cx="791.3" cy="312.9" r="1.30"/><circle cx="792.0" cy="313.4" r="1.30"/><circle cx="792.7" cy="314.0" r="1.29"/><circle cx="793.3" cy="314.6" r="1.29"/><circle cx="794.0" cy="315.2" r="1.29"/><circle cx="794.7" cy="315.8" r="1.29"/><circle cx="795.4" cy="316.3" r="1.29"/><circle cx="796.1" cy="316.9" r="1.28"/><circle cx="796.7" cy="317.4" r="1.28"/><circle cx="797.4" cy="317.9" r="1.28"/><circle cx="798.1" cy="318.4" r="1.28"/><circle cx="798.8" cy="318.9" r="1.28"/><circle cx="799.5" cy="319.4" r="1.28"/><circle cx="800.1" cy="319.9" r="1.27"/><circle cx="800.8" cy="320.5" r="1.27"/><circle cx="801.5" cy="320.9" r="1.27"/><circle cx="802.2" cy="321.5" r="1.27"/><circle cx="802.9" cy="322.1" r="1.27"/><circle cx="803.5" cy="322.5" r="1.27"/><circle cx="804.2" cy="323.0" r="1.26"/><circle cx="804.9" cy="323.4" r="1.26"/><circle cx="805.6" cy="323.8" r="1.26"/><circle cx="806.3" cy="324.3" r="1.26"/><circle cx="806.9" cy="324.9" r="1.26"/><circle cx="807.6" cy="325.2" r="1.26"/><circle cx="808.3" cy="325.6" r="1.25"/><circle cx="809.0" cy="326.4" r="1.25"/><circle cx="809.7" cy="326.6" r="1.25"/><circle cx="810.3" cy="326.9" r="1.25"/><circle cx="811.0" cy="327.5" r="1.25"/><circle cx="811.7" cy="327.9" r="1.25"/><circle cx="812.4" cy="328.2" r="1.24"/><circle cx="813.1" cy="328.5" r="1.24"/><circle cx="813.7" cy="329.0" r="1.24"/><circle cx="814.4" cy="329.1" r="1.24"/><circle cx="815.1" cy="329.7" r="1.24"/><circle cx="815.8" cy="330.1" r="1.24"/><circle cx="816.5" cy="330.0" r="1.23"/><circle cx="817.1" cy="330.4" r="1.23"/><circle cx="817.8" cy="330.8" r="1.23"/><circle cx="818.5" cy="330.9" r="1.23"/><circle cx="819.2" cy="330.9" r="1.23"/><circle cx="819.9" cy="331.0" r="1.23"/><circle cx="820.5" cy="331.3" r="1.22"/><circle cx="821.2" cy="331.3" r="1.22"/><circle cx="821.9" cy="331.8" r="1.22"/><circle cx="822.6" cy="331.8" r="1.22"/><circle cx="823.3" cy="331.7" r="1.22"/><circle cx="823.9" cy="332.0" r="1.22"/><circle cx="824.6" cy="331.8" r="1.21"/><circle cx="825.3" cy="332.0" r="1.21"/><circle cx="826.0" cy="332.0" r="1.21"/><circle cx="826.7" cy="331.8" r="1.21"/><circle cx="827.3" cy="332.2" r="1.21"/><circle cx="828.0" cy="332.1" r="1.20"/><circle cx="828.7" cy="331.8" r="1.20"/><circle cx="829.4" cy="331.9" r="1.20"/><circle cx="830.1" cy="331.7" r="1.20"/><circle cx="830.7" cy="332.1" r="1.20"/><circle cx="831.4" cy="331.8" r="1.20"/><circle cx="832.1" cy="331.9" r="1.20"/><circle cx="832.8" cy="331.7" r="1.20"/><circle cx="833.5" cy="331.6" r="1.20"/><circle cx="834.1" cy="331.2" r="1.20"/><circle cx="834.8" cy="331.5" r="1.20"/><circle cx="835.5" cy="331.0" r="1.20"/><circle cx="836.2" cy="331.2" r="1.20"/><circle cx="836.9" cy="331.0" r="1.20"/><circle cx="837.5" cy="330.8" r="1.20"/><circle cx="838.2" cy="330.4" r="1.20"/><circle cx="838.9" cy="330.6" r="1.20"/><circle cx="839.6" cy="330.5" r="1.20"/><circle cx="840.3" cy="330.4" r="1.20"/><circle cx="840.9" cy="329.8" r="1.20"/><circle cx="841.6" cy="329.8" r="1.20"/><circle cx="842.3" cy="330.0" r="1.20"/><circle cx="843.0" cy="330.2" r="1.20"/><circle cx="843.7" cy="329.5" r="1.20"/><circle cx="844.3" cy="330.0" r="1.20"/><circle cx="845.0" cy="329.9" r="1.20"/><circle cx="845.7" cy="329.0" r="1.20"/><circle cx="846.4" cy="329.5" r="1.20"/><circle cx="847.1" cy="329.1" r="1.20"/><circle cx="847.7" cy="328.7" r="1.20"/><circle cx="848.4" cy="328.7" r="1.20"/><circle cx="849.1" cy="328.7" r="1.20"/><circle cx="849.8" cy="328.2" r="1.20"/><circle cx="850.5" cy="328.8" r="1.20"/><circle cx="851.1" cy="328.5" r="1.20"/><circle cx="851.8" cy="328.3" r="1.20"/><circle cx="852.5" cy="328.7" r="1.20"/><circle cx="853.2" cy="328.7" r="1.20"/><circle cx="853.9" cy="328.1" r="1.20"/><circle cx="854.5" cy="327.8" r="1.20"/><circle cx="855.2" cy="328.1" r="1.20"/><circle cx="855.9" cy="327.8" r="1.20"/><circle cx="856.6" cy="328.2" r="1.20"/><circle cx="857.3" cy="327.5" r="1.20"/><circle cx="857.9" cy="327.2" r="1.20"/><circle cx="858.6" cy="327.0" r="1.20"/><circle cx="859.3" cy="327.1" r="1.20"/><circle cx="860.0" cy="326.9" r="1.20"/><circle cx="860.7" cy="327.8" r="1.20"/><circle cx="861.3" cy="327.5" r="1.20"/><circle cx="862.0" cy="327.3" r="1.20"/><circle cx="862.7" cy="327.7" r="1.20"/><circle cx="863.4" cy="327.2" r="1.20"/><circle cx="864.1" cy="327.3" r="1.20"/><circle cx="864.7" cy="326.5" r="1.20"/><circle cx="865.4" cy="326.6" r="1.20"/><circle cx="866.1" cy="327.0" r="1.20"/><circle cx="866.8" cy="327.2" r="1.20"/><circle cx="867.5" cy="326.5" r="1.20"/><circle cx="868.1" cy="326.6" r="1.20"/><circle cx="868.8" cy="326.4" r="1.20"/><circle cx="869.5" cy="326.3" r="1.20"/><circle cx="870.2" cy="326.7" r="1.20"/><circle cx="870.9" cy="327.1" r="1.20"/><circle cx="871.5" cy="327.2" r="1.20"/><circle cx="872.2" cy="326.6" r="1.20"/><circle cx="872.9" cy="325.9" r="1.20"/><circle cx="873.6" cy="326.2" r="1.20"/><circle cx="874.3" cy="326.7" r="1.20"/><circle cx="874.9" cy="327.1" r="1.20"/><circle cx="875.6" cy="326.0" r="1.20"/><circle cx="876.3" cy="327.0" r="1.20"/><circle cx="877.0" cy="327.1" r="1.20"/><circle cx="877.7" cy="326.0" r="1.20"/><circle cx="878.3" cy="327.2" r="1.20"/><circle cx="879.0" cy="326.8" r="1.20"/><circle cx="879.7" cy="327.2" r="1.20"/><circle cx="880.4" cy="326.9" r="1.20"/><circle cx="881.1" cy="327.0" r="1.20"/><circle cx="881.7" cy="327.3" r="1.20"/><circle cx="882.4" cy="327.2" r="1.20"/><circle cx="883.1" cy="326.7" r="1.20"/><circle cx="883.8" cy="326.7" r="1.20"/><circle cx="884.5" cy="327.7" r="1.20"/><circle cx="885.1" cy="326.6" r="1.20"/><circle cx="885.8" cy="326.9" r="1.20"/><circle cx="886.5" cy="326.6" r="1.20"/><circle cx="887.2" cy="326.9" r="1.20"/><circle cx="887.9" cy="327.4" r="1.20"/><circle cx="888.5" cy="326.8" r="1.20"/><circle cx="889.2" cy="327.3" r="1.20"/><circle cx="889.9" cy="327.7" r="1.20"/><circle cx="890.6" cy="327.4" r="1.20"/><circle cx="891.3" cy="328.1" r="1.20"/><circle cx="891.9" cy="327.7" r="1.20"/><circle cx="892.6" cy="327.5" r="1.20"/><circle cx="893.3" cy="328.3" r="1.20"/><circle cx="894.0" cy="328.1" r="1.20"/><circle cx="894.7" cy="328.0" r="1.20"/><circle cx="895.3" cy="327.6" r="1.20"/><circle cx="896.0" cy="329.1" r="1.20"/><circle cx="896.7" cy="327.8" r="1.20"/><circle cx="897.4" cy="328.3" r="1.20"/><circle cx="898.1" cy="328.7" r="1.20"/><circle cx="898.7" cy="329.5" r="1.20"/><circle cx="899.4" cy="328.4" r="1.20"/><circle cx="900.1" cy="328.2" r="1.20"/><circle cx="900.8" cy="329.4" r="1.20"/><circle cx="901.5" cy="330.0" r="1.20"/><circle cx="902.1" cy="329.1" r="1.20"/><circle cx="902.8" cy="330.3" r="1.20"/><circle cx="903.5" cy="329.1" r="1.20"/><circle cx="904.2" cy="330.3" r="1.20"/><circle cx="904.9" cy="328.7" r="1.20"/><circle cx="905.5" cy="330.2" r="1.20"/><circle cx="906.2" cy="330.7" r="1.20"/><circle cx="906.9" cy="329.6" r="1.20"/><circle cx="907.6" cy="330.9" r="1.20"/><circle cx="908.3" cy="330.5" r="1.20"/><circle cx="908.9" cy="330.0" r="1.20"/><circle cx="909.6" cy="329.6" r="1.20"/><circle cx="910.3" cy="331.0" r="1.20"/><circle cx="911.0" cy="330.5" r="1.20"/><circle cx="911.7" cy="331.0" r="1.20"/><circle cx="912.3" cy="330.4" r="1.20"/><circle cx="913.0" cy="330.1" r="1.20"/><circle cx="913.7" cy="330.4" r="1.20"/><circle cx="914.4" cy="331.7" r="1.20"/><circle cx="915.1" cy="330.7" r="1.20"/><circle cx="915.7" cy="331.2" r="1.20"/><circle cx="916.4" cy="331.9" r="1.20"/><circle cx="917.1" cy="331.4" r="1.20"/><circle cx="917.8" cy="331.9" r="1.20"/><circle cx="918.5" cy="331.9" r="1.20"/><circle cx="919.1" cy="332.8" r="1.20"/><circle cx="919.8" cy="332.1" r="1.20"/><circle cx="920.5" cy="332.0" r="1.20"/><circle cx="921.2" cy="333.7" r="1.20"/><circle cx="921.9" cy="332.0" r="1.20"/><circle cx="922.5" cy="333.1" r="1.20"/><circle cx="923.2" cy="333.2" r="1.20"/><circle cx="923.9" cy="332.7" r="1.20"/><circle cx="924.6" cy="333.7" r="1.20"/><circle cx="925.3" cy="333.9" r="1.20"/><circle cx="925.9" cy="333.4" r="1.20"/><circle cx="926.6" cy="333.1" r="1.20"/><circle cx="927.3" cy="332.8" r="1.20"/><circle cx="928.0" cy="334.6" r="1.20"/><circle cx="928.7" cy="335.0" r="1.20"/><circle cx="929.3" cy="333.5" r="1.20"/><circle cx="930.0" cy="333.7" r="1.20"/><circle cx="930.7" cy="334.6" r="1.20"/><circle cx="931.4" cy="335.0" r="1.20"/><circle cx="932.1" cy="335.3" r="1.20"/><circle cx="932.7" cy="335.2" r="1.20"/><circle cx="933.4" cy="335.1" r="1.20"/><circle cx="934.1" cy="335.1" r="1.20"/><circle cx="934.8" cy="333.7" r="1.20"/><circle cx="935.5" cy="335.0" r="1.20"/><circle cx="936.1" cy="335.6" r="1.20"/><circle cx="936.8" cy="334.7" r="1.20"/><circle cx="937.5" cy="334.7" r="1.20"/><circle cx="938.2" cy="335.2" r="1.20"/><circle cx="938.9" cy="335.7" r="1.20"/><circle cx="939.5" cy="334.5" r="1.20"/><circle cx="940.2" cy="336.4" r="1.20"/><circle cx="940.9" cy="336.5" r="1.20"/><circle cx="941.6" cy="335.3" r="1.20"/><circle cx="942.3" cy="335.5" r="1.20"/><circle cx="942.9" cy="335.5" r="1.20"/><circle cx="943.6" cy="336.2" r="1.20"/><circle cx="944.3" cy="337.7" r="1.20"/><circle cx="945.0" cy="336.4" r="1.20"/><circle cx="945.7" cy="337.9" r="1.20"/><circle cx="946.3" cy="336.1" r="1.20"/><circle cx="947.0" cy="336.3" r="1.20"/><circle cx="947.7" cy="337.1" r="1.20"/><circle cx="948.4" cy="336.3" r="1.20"/><circle cx="949.1" cy="336.3" r="1.20"/><circle cx="949.7" cy="337.9" r="1.20"/><circle cx="950.4" cy="337.1" r="1.20"/><circle cx="951.1" cy="338.2" r="1.20"/><circle cx="951.8" cy="337.0" r="1.20"/><circle cx="952.5" cy="337.3" r="1.20"/><circle cx="953.1" cy="339.0" r="1.20"/><circle cx="953.8" cy="338.3" r="1.20"/><circle cx="954.5" cy="337.1" r="1.20"/><circle cx="955.2" cy="338.0" r="1.20"/><circle cx="955.9" cy="337.2" r="1.20"/><circle cx="956.5" cy="337.2" r="1.20"/><circle cx="957.2" cy="338.7" r="1.20"/><circle cx="957.9" cy="337.5" r="1.20"/><circle cx="958.6" cy="337.9" r="1.20"/><circle cx="959.3" cy="337.6" r="1.20"/><circle cx="959.9" cy="337.8" r="1.20"/><circle cx="960.6" cy="338.8" r="1.20"/><circle cx="961.3" cy="338.1" r="1.20"/><circle cx="962.0" cy="338.6" r="1.20"/><circle cx="962.7" cy="339.0" r="1.20"/><circle cx="963.3" cy="338.4" r="1.20"/><circle cx="964.0" cy="338.3" r="1.20"/><circle cx="964.7" cy="338.4" r="1.20"/><circle cx="965.4" cy="340.8" r="1.20"/><circle cx="966.1" cy="339.2" r="1.20"/><circle cx="966.7" cy="339.6" r="1.20"/><circle cx="967.4" cy="340.5" r="1.20"/></g>
<path d="M656.0 293.0 L655.9 294.7 L656.1 295.3 L656.3 294.9 L656.6 294.4 L656.9 293.7 L657.2 293.0 L657.6 292.1 L658.0 291.2 L658.3 290.2 L658.7 289.3 L659.0 288.5 L659.3 287.8 L659.5 287.0 L659.8 286.3 L660.1 285.5 L660.4 284.8 L660.6 284.0 L660.9 283.2 L661.1 282.4 L661.4 281.6 L661.6 280.8 L661.8 280.0 L662.0 279.3 L662.2 278.5 L662.4 277.7 L662.6 276.9 L662.7 276.1 L662.9 275.3 L663.1 274.4 L663.3 273.6 L663.4 272.8 L663.6 272.0 L663.8 271.2 L663.9 270.4 L664.1 269.5 L664.3 268.7 L664.4 267.8 L664.6 267.0 L664.8 266.2 L664.9 265.4 L665.1 264.5 L665.2 263.8 L665.4 263.0 L665.6 262.1 L665.8 261.2 L666.0 260.3 L666.1 259.4 L666.3 258.5 L666.5 257.7 L666.7 256.9 L666.8 256.2 L667.0 255.5 L667.3 254.4 L667.6 253.4 L667.8 252.6 L668.1 252.0 L668.4 251.7 L668.9 251.9 L669.3 252.7 L669.8 254.0 L670.0 254.7 L670.2 255.4 L670.4 256.3 L670.6 257.2 L670.8 258.1 L671.0 259.1 L671.2 260.0 L671.4 260.8 L671.5 261.7 L671.7 262.6 L671.9 263.4 L672.1 264.3 L672.2 265.2 L672.4 266.1 L672.6 267.0 L672.8 267.8 L673.0 268.6 L673.1 269.4 L673.3 270.2 L673.5 271.0 L673.7 271.8 L673.9 272.5 L674.1 273.3 L674.3 274.0 L674.5 274.9 L674.8 275.8 L675.0 276.6 L675.3 277.5 L675.5 278.2 L675.8 279.0 L676.0 279.6 L676.4 280.6 L676.8 281.4 L677.1 282.0 L677.5 282.5 L678.2 283.1 L679.0 283.2 L679.7 282.9 L680.6 282.3 L681.5 281.5 L682.1 281.0 L682.6 280.3 L683.3 279.7 L683.9 279.0 L684.5 278.5 L685.3 277.9 L686.2 277.5 L687.0 277.1 L687.8 277.0 L688.7 277.3 L689.6 277.9 L690.5 278.7 L691.2 279.4 L691.9 280.2 L692.6 281.0 L693.2 281.4 L694.0 281.4 L694.7 280.8 L695.5 280.0 L695.9 279.4 L696.3 278.7 L696.8 277.9 L697.2 277.1 L697.6 276.2 L698.0 275.5 L698.5 274.7 L699.0 273.8 L699.4 273.0 L699.9 272.3 L700.3 271.7 L701.1 270.8 L701.9 270.6 L702.8 270.9 L703.8 271.8 L704.3 272.4 L704.9 273.2 L705.4 274.0 L706.0 274.8 L706.6 275.6 L707.3 276.3 L707.9 277.0 L708.6 277.5 L709.5 277.8 L710.4 277.9 L711.3 277.9 L712.2 277.8 L713.1 277.6 L714.0 277.6 L714.7 277.9 L715.4 278.3 L716.2 278.9 L717.0 279.5 L717.6 280.0 L718.3 280.5 L719.0 281.0 L719.7 281.6 L720.5 282.1 L721.2 282.6 L722.0 283.0 L722.7 283.4 L723.5 283.8 L724.3 284.2 L725.1 284.5 L726.0 284.8 L726.8 285.0 L727.6 285.2 L728.5 285.4 L729.4 285.6 L730.3 285.8 L731.1 285.9 L732.0 286.0 L732.9 286.1 L733.7 286.1 L734.6 286.2 L735.5 286.2 L736.4 286.2 L737.2 286.2 L738.0 286.2 L738.9 286.2 L739.8 286.2 L740.6 286.1 L741.4 286.1 L742.2 286.1 L742.9 286.2 L743.9 286.4 L744.8 286.7 L745.6 287.0 L746.5 287.4 L747.2 287.8 L747.8 288.2 L748.4 288.6 L749.2 289.1 L750.1 289.6 L750.7 289.9 L751.4 290.3 L752.1 290.6 L752.9 291.0 L753.7 291.4 L754.5 291.8 L755.4 292.2 L756.2 292.6 L757.0 293.0 L757.7 293.4 L758.5 293.8 L759.2 294.1 L760.0 294.5 L760.7 294.9 L761.5 295.3 L762.2 295.8 L763.0 296.2 L763.8 296.6 L764.6 297.0 L765.3 297.4 L766.1 297.8 L766.8 298.1 L767.5 298.5 L768.3 298.9 L769.0 299.3 L769.8 299.7 L770.6 300.1 L771.4 300.5 L772.2 300.9 L773.0 301.3 L773.7 301.7 L774.4 302.0 L775.2 302.4 L776.0 302.8 L776.7 303.1 L777.5 303.5 L778.3 303.9 L779.1 304.3 L779.8 304.7 L780.6 305.1 L781.3 305.5 L782.0 305.9 L782.7 306.3 L783.5 306.8 L784.2 307.3 L784.9 307.8 L785.6 308.3 L786.3 308.8 L787.0 309.4 L787.6 309.9 L788.2 310.4 L788.8 310.9 L789.4 311.3 L790.0 311.8 L790.7 312.4 L791.4 312.9 L792.0 313.5 L792.6 314.0 L793.2 314.5 L793.8 315.0 L794.4 315.5 L795.0 316.0 L795.7 316.5 L796.4 317.1 L797.1 317.6 L797.8 318.2 L798.5 318.7 L799.2 319.3 L799.9 319.8 L800.6 320.3 L801.3 320.8 L802.0 321.3 L802.7 321.8 L803.3 322.3 L804.0 322.8 L804.7 323.3 L805.3 323.7 L806.0 324.2 L806.7 324.7 L807.5 325.2 L808.2 325.7 L808.9 326.2 L809.7 326.6 L810.4 327.1 L811.1 327.5 L811.9 328.0 L812.7 328.4 L813.5 328.9 L814.3 329.3 L815.1 329.6 L816.0 330.0 L816.8 330.3 L817.6 330.6 L818.4 330.8 L819.2 331.0 L820.1 331.3 L820.9 331.4 L821.7 331.6 L822.6 331.7 L823.5 331.9 L824.4 331.9 L825.2 332.0 L826.1 332.0 L827.0 332.0 L827.8 332.0 L828.6 332.0 L829.4 331.9 L830.2 331.9 L831.2 331.7 L832.3 331.6 L832.9 331.5 L833.6 331.4 L834.4 331.3 L835.1 331.2 L835.9 331.0 L836.8 330.9 L837.6 330.7 L838.5 330.6 L839.4 330.4 L840.2 330.3 L841.1 330.1 L842.0 330.0 L842.8 329.9 L843.5 329.7 L844.3 329.6 L845.2 329.5 L846.0 329.3 L846.8 329.2 L847.6 329.1 L848.5 328.9 L849.3 328.8 L850.2 328.7 L851.0 328.5 L851.8 328.4 L852.6 328.3 L853.4 328.2 L854.2 328.1 L855.1 328.0 L855.9 327.9 L856.7 327.8 L857.5 327.7 L858.4 327.6 L859.2 327.5 L860.0 327.4 L860.8 327.3 L861.6 327.2 L862.4 327.1 L863.2 327.1 L864.0 327.0 L864.8 326.9 L865.6 326.9 L866.4 326.8 L867.2 326.8 L868.0 326.7 L868.9 326.7 L869.7 326.6 L870.5 326.6 L871.3 326.6 L872.1 326.5 L872.9 326.5 L873.7 326.5 L874.5 326.5 L875.3 326.5 L876.1 326.5 L876.9 326.5 L877.7 326.6 L878.5 326.6 L879.3 326.6 L880.1 326.7 L881.0 326.7 L881.8 326.8 L882.6 326.8 L883.4 326.9 L884.2 326.9 L885.0 327.0 L885.8 327.1 L886.6 327.1 L887.4 327.2 L888.3 327.3 L889.1 327.4 L889.9 327.5 L890.7 327.6 L891.5 327.7 L892.3 327.8 L893.2 327.9 L894.0 328.0 L894.8 328.1 L895.6 328.2 L896.4 328.3 L897.2 328.4 L898.0 328.6 L898.8 328.7 L899.6 328.8 L900.4 328.9 L901.2 329.1 L902.0 329.2 L902.8 329.3 L903.6 329.5 L904.4 329.6 L905.2 329.8 L906.0 329.9 L906.8 330.0 L907.6 330.2 L908.5 330.3 L909.3 330.5 L910.2 330.6 L911.0 330.8 L911.8 330.9 L912.7 331.1 L913.5 331.2 L914.3 331.4 L915.2 331.5 L916.0 331.7 L916.8 331.8 L917.7 332.0 L918.5 332.1 L919.4 332.3 L920.2 332.4 L921.1 332.6 L921.9 332.7 L922.7 332.9 L923.6 333.0 L924.4 333.2 L925.3 333.3 L926.1 333.5 L927.0 333.6 L927.8 333.7 L928.7 333.9 L929.5 334.0 L930.4 334.2 L931.2 334.3 L932.1 334.4 L932.9 334.6 L933.8 334.7 L934.7 334.9 L935.5 335.0 L936.3 335.1 L937.1 335.3 L937.9 335.4 L938.8 335.6 L939.7 335.7 L940.5 335.9 L941.4 336.0 L942.2 336.2 L943.1 336.3 L943.9 336.5 L944.7 336.6 L945.4 336.7 L946.2 336.9 L947.0 337.0 L947.9 337.2 L948.9 337.3 L949.8 337.4 L950.6 337.6 L951.5 337.7 L952.4 337.8 L953.2 338.0 L954.0 338.1 L954.8 338.2 L955.8 338.3 L956.7 338.5 L957.6 338.6 L958.4 338.7 L959.3 338.8 L960.1 338.9 L961.0 339.0 L961.8 339.1 L962.6 339.2 L963.4 339.3 L964.2 339.4 L965.0 339.5 L965.9 339.6 L966.7 339.7 L967.5 339.8" fill="none" stroke="#3a3a3a" stroke-width="0.9" stroke-linejoin="round" stroke-linecap="round"/>
<path d="M641.3 307.0 L641.9 306.3 L642.5 305.7 L643.1 305.0 L643.7 304.3 L644.4 303.7 L645.0 303.0 L645.6 302.4 L646.1 301.8 L646.7 301.2 L647.3 300.6 L647.9 300.1 L648.5 299.5 L649.0 299.0 L649.7 298.3 L650.4 297.7 L651.1 297.2 L651.8 296.6 L652.5 296.0 L653.2 295.4 L653.9 294.8 L654.6 294.2 L655.3 293.6 L656.0 293.0" fill="none" stroke="#444" stroke-width="1.25" stroke-linejoin="round" stroke-linecap="round"/>
<g stroke="#111" fill="none">
<path d="M622.7 75.7V357.8" stroke-width="2.3"/>
<path d="M621.6 357.0H968.5" stroke-width="1.6"/>
<path d="M622.5 357.00H617.5M622.5 328.95H617.5M622.5 300.90H617.5M622.5 272.85H617.5M622.5 244.80H617.5M622.5 216.75H617.5M622.5 188.70H617.5M622.5 160.65H617.5M622.5 132.60H617.5M622.5 104.55H617.5M622.5 76.50H617.5" stroke-width="1.7"/>
<path d="M622.5 348.56H619.7M622.5 343.62H619.7M622.5 340.11H619.7M622.5 337.39H619.7M622.5 335.17H619.7M622.5 333.29H619.7M622.5 331.67H619.7M622.5 330.23H619.7M622.5 320.51H619.7M622.5 315.57H619.7M622.5 312.06H619.7M622.5 309.34H619.7M622.5 307.12H619.7M622.5 305.24H619.7M622.5 303.62H619.7M622.5 302.18H619.7M622.5 292.46H619.7M622.5 287.52H619.7M622.5 284.01H619.7M622.5 281.29H619.7M622.5 279.07H619.7M622.5 277.19H619.7M622.5 275.57H619.7M622.5 274.13H619.7M622.5 264.41H619.7M622.5 259.47H619.7M622.5 255.96H619.7M622.5 253.24H619.7M622.5 251.02H619.7M622.5 249.14H619.7M622.5 247.52H619.7M622.5 246.08H619.7M622.5 236.36H619.7M622.5 231.42H619.7M622.5 227.91H619.7M622.5 225.19H619.7M622.5 222.97H619.7M622.5 221.09H619.7M622.5 219.47H619.7M622.5 218.03H619.7M622.5 208.31H619.7M622.5 203.37H619.7M622.5 199.86H619.7M622.5 197.14H619.7M622.5 194.92H619.7M622.5 193.04H619.7M622.5 191.42H619.7M622.5 189.98H619.7M622.5 180.26H619.7M622.5 175.32H619.7M622.5 171.81H619.7M622.5 169.09H619.7M622.5 166.87H619.7M622.5 164.99H619.7M622.5 163.37H619.7M622.5 161.93H619.7M622.5 152.21H619.7M622.5 147.27H619.7M622.5 143.76H619.7M622.5 141.04H619.7M622.5 138.82H619.7M622.5 136.94H619.7M622.5 135.32H619.7M622.5 133.88H619.7M622.5 124.16H619.7M622.5 119.22H619.7M622.5 115.71H619.7M622.5 112.99H619.7M622.5 110.77H619.7M622.5 108.89H619.7M622.5 107.27H619.7M622.5 105.83H619.7M622.5 96.11H619.7M622.5 91.17H619.7M622.5 87.66H619.7M622.5 84.94H619.7M622.5 82.72H619.7M622.5 80.84H619.7M622.5 79.22H619.7M622.5 77.78H619.7" stroke-width="1.1"/>
<path d="M622.70 357.0V362.8M668.35 357.0V362.8M714.00 357.0V362.8M759.65 357.0V362.8M805.30 357.0V362.8M850.95 357.0V362.8M896.60 357.0V362.8M942.25 357.0V362.8" stroke-width="1.4"/>
<path d="M631.83 357.0V360.5M640.96 357.0V360.5M650.09 357.0V360.5M659.22 357.0V360.5M677.48 357.0V360.5M686.61 357.0V360.5M695.74 357.0V360.5M704.87 357.0V360.5M723.13 357.0V360.5M732.26 357.0V360.5M741.39 357.0V360.5M750.52 357.0V360.5M768.78 357.0V360.5M777.91 357.0V360.5M787.04 357.0V360.5M796.17 357.0V360.5M814.43 357.0V360.5M823.56 357.0V360.5M832.69 357.0V360.5M841.82 357.0V360.5M860.08 357.0V360.5M869.21 357.0V360.5M878.34 357.0V360.5M887.47 357.0V360.5M905.73 357.0V360.5M914.86 357.0V360.5M923.99 357.0V360.5M933.12 357.0V360.5M951.38 357.0V360.5M960.51 357.0V360.5M969.64 357.0V360.5" stroke-width="1.1"/>
</g>
<text transform="translate(623.6 384.9) scale(1 1.090)" font-size="21.3" text-anchor="middle" fill="#000" stroke="#000" stroke-width="0.25">0.0</text>
<text transform="translate(669.2 384.9) scale(1 1.090)" font-size="21.3" text-anchor="middle" fill="#000" stroke="#000" stroke-width="0.25">0.5</text>
<text transform="translate(714.9 384.9) scale(1 1.090)" font-size="21.3" text-anchor="middle" fill="#000" stroke="#000" stroke-width="0.25">1.0</text>
<text transform="translate(760.6 384.9) scale(1 1.090)" font-size="21.3" text-anchor="middle" fill="#000" stroke="#000" stroke-width="0.25">1.5</text>
<text transform="translate(806.2 384.9) scale(1 1.090)" font-size="21.3" text-anchor="middle" fill="#000" stroke="#000" stroke-width="0.25">2.0</text>
<text transform="translate(851.9 384.9) scale(1 1.090)" font-size="21.3" text-anchor="middle" fill="#000" stroke="#000" stroke-width="0.25">2.5</text>
<text transform="translate(897.5 384.9) scale(1 1.090)" font-size="21.3" text-anchor="middle" fill="#000" stroke="#000" stroke-width="0.25">3.0</text>
<text transform="translate(943.1 384.9) scale(1 1.090)" font-size="21.3" text-anchor="middle" fill="#000" stroke="#000" stroke-width="0.25">3.5</text>
<text transform="translate(614.6 365.0) scale(1 1.090)" font-size="21.3" text-anchor="end" fill="#000" stroke="#000" stroke-width="0.25">10<tspan font-size="12.4" dy="-11.2">-3</tspan></text>
<text transform="translate(614.6 337.0) scale(1 1.090)" font-size="21.3" text-anchor="end" fill="#000" stroke="#000" stroke-width="0.25">10<tspan font-size="12.4" dy="-11.2">-2</tspan></text>
<text transform="translate(614.6 308.9) scale(1 1.090)" font-size="21.3" text-anchor="end" fill="#000" stroke="#000" stroke-width="0.25">10<tspan font-size="12.4" dy="-11.2">-1</tspan></text>
<text transform="translate(614.6 280.9) scale(1 1.090)" font-size="21.3" text-anchor="end" fill="#000" stroke="#000" stroke-width="0.25">10<tspan font-size="12.4" dy="-11.2">0</tspan></text>
<text transform="translate(614.6 252.8) scale(1 1.090)" font-size="21.3" text-anchor="end" fill="#000" stroke="#000" stroke-width="0.25">10<tspan font-size="12.4" dy="-11.2">1</tspan></text>
<text transform="translate(614.6 224.8) scale(1 1.090)" font-size="21.3" text-anchor="end" fill="#000" stroke="#000" stroke-width="0.25">10<tspan font-size="12.4" dy="-11.2">2</tspan></text>
<text transform="translate(614.6 196.7) scale(1 1.090)" font-size="21.3" text-anchor="end" fill="#000" stroke="#000" stroke-width="0.25">10<tspan font-size="12.4" dy="-11.2">3</tspan></text>
<text transform="translate(614.6 168.7) scale(1 1.090)" font-size="21.3" text-anchor="end" fill="#000" stroke="#000" stroke-width="0.25">10<tspan font-size="12.4" dy="-11.2">4</tspan></text>
<text transform="translate(614.6 140.6) scale(1 1.090)" font-size="21.3" text-anchor="end" fill="#000" stroke="#000" stroke-width="0.25">10<tspan font-size="12.4" dy="-11.2">5</tspan></text>
<text transform="translate(614.6 112.5) scale(1 1.090)" font-size="21.3" text-anchor="end" fill="#000" stroke="#000" stroke-width="0.25">10<tspan font-size="12.4" dy="-11.2">6</tspan></text>
<text transform="translate(614.6 84.5) scale(1 1.090)" font-size="21.3" text-anchor="end" fill="#000" stroke="#000" stroke-width="0.25">10<tspan font-size="12.4" dy="-11.2">7</tspan></text>
<text transform="translate(758.3 415.8) scale(1 1.070)" font-size="27.2" font-weight="bold" fill="#000" stroke="#000" stroke-width="0.25">q / nm<tspan font-size="12.6" dy="-13.6">-1</tspan></text>
<text transform="translate(561.8 290.2) rotate(-90) scale(1.10 1)" font-size="30" font-weight="bold" fill="#000">I(q) / a.u.</text>
<text x="567.6" y="43" font-size="34.5" fill="#000">(b)</text>
<text transform="translate(823.2 78.6) scale(1 1.090)" font-size="20.4" fill="#000" stroke="#000" stroke-width="0.25" textLength="127.3" lengthAdjust="spacing"><tspan font-weight="bold">Lig</tspan>, ϕ = 0.235</text>
<text transform="translate(823.2 204.5) scale(1 1.090)" font-size="20.4" fill="#000" stroke="#000" stroke-width="0.25" textLength="165.3" lengthAdjust="spacing"><tspan font-weight="bold">PS2.3k</tspan>, ϕ = 0.076</text>
<text transform="translate(819.0 259.8) scale(1 1.090)" font-size="20.4" fill="#000" stroke="#000" stroke-width="0.25" textLength="164.7" lengthAdjust="spacing"><tspan font-weight="bold">PS7.6k</tspan>, ϕ = 0.035</text>
<text transform="translate(820.7 316.0) scale(1 1.090)" font-size="20.4" fill="#000" stroke="#000" stroke-width="0.25" textLength="175.7" lengthAdjust="spacing"><tspan font-weight="bold">PS15.6k</tspan>, ϕ = 0.013</text>
<text transform="translate(700.8 98.0) scale(1 1.030)" font-size="10" text-anchor="middle" font-weight="bold" fill="#000" stroke="#000" stroke-width="0.25">110</text>
<text transform="translate(742.0 49.9) scale(1 1.030)" font-size="10" text-anchor="middle" font-weight="bold" fill="#000" stroke="#000" stroke-width="0.25">111</text>
<text transform="translate(759.2 59.5) scale(1 1.030)" font-size="10" text-anchor="middle" font-weight="bold" fill="#000" stroke="#000" stroke-width="0.25">200</text>
<text transform="translate(815.0 100.0) scale(1 1.030)" font-size="10" text-anchor="middle" font-weight="bold" fill="#000" stroke="#000" stroke-width="0.25">220</text>
<text transform="translate(850.8 99.6) scale(1 1.030)" font-size="10" text-anchor="middle" font-weight="bold" fill="#000" stroke="#000" stroke-width="0.25">311</text>
<text transform="translate(861.2 109.8) scale(1 1.030)" font-size="10" text-anchor="middle" font-weight="bold" fill="#000" stroke="#000" stroke-width="0.25">222</text>
<text transform="translate(897.1 107.5) scale(1 1.030)" font-size="10" text-anchor="middle" font-weight="bold" fill="#000" stroke="#000" stroke-width="0.25">400</text>
<text transform="translate(923.5 97.5) scale(1 1.030)" font-size="10" text-anchor="middle" font-weight="bold" fill="#000" stroke="#000" stroke-width="0.25">331</text>
<text transform="translate(933.0 107.5) scale(1 1.030)" font-size="10" text-anchor="middle" font-weight="bold" fill="#000" stroke="#000" stroke-width="0.25">420</text>
<text transform="translate(956.9 120.8) scale(1 1.030)" font-size="10" text-anchor="middle" font-weight="bold" fill="#000" stroke="#000" stroke-width="0.25">422</text>
<text transform="translate(733.0 136.6) scale(1 1.030)" font-size="10" text-anchor="middle" font-weight="bold" fill="#000" stroke="#000" stroke-width="0.25">200</text>
<text transform="translate(757.0 134.5) scale(1 1.030)" font-size="10" text-anchor="middle" font-weight="bold" fill="#000" stroke="#000" stroke-width="0.25">211</text>
<text transform="translate(777.2 150.7) scale(1 1.030)" font-size="10" text-anchor="middle" font-weight="bold" fill="#000" stroke="#000" stroke-width="0.25">220</text>
<g stroke="#2a2a2a" stroke-width="1" fill="#111">
<path d="M700.8 107.3V128.4" fill="none"/>
<path d="M700.8 131.4l-1.5 -4.6h3z" stroke="none"/>
<path d="M742.0 56.7V78.5" fill="none"/>
<path d="M742.0 81.5l-1.5 -4.6h3z" stroke="none"/>
<path d="M759.5 68.0V90.3" fill="none"/>
<path d="M759.5 93.3l-1.5 -4.6h3z" stroke="none"/>
<path d="M813.9 108.7V130.8" fill="none"/>
<path d="M813.9 133.8l-1.5 -4.6h3z" stroke="none"/>
<path d="M851.9 110.2V132.5" fill="none"/>
<path d="M851.9 135.5l-1.5 -4.6h3z" stroke="none"/>
<path d="M861.2 114.4V137.1" fill="none"/>
<path d="M861.2 140.1l-1.5 -4.6h3z" stroke="none"/>
<path d="M897.5 115.5V137.8" fill="none"/>
<path d="M897.5 140.8l-1.5 -4.6h3z" stroke="none"/>
<path d="M924.6 112.3V135.0" fill="none"/>
<path d="M924.6 138.0l-1.5 -4.6h3z" stroke="none"/>
<path d="M930.7 118.0V139.9" fill="none"/>
<path d="M930.7 142.9l-1.5 -4.6h3z" stroke="none"/>
<path d="M958.4 126.4V148.8" fill="none"/>
<path d="M958.4 151.8l-1.5 -4.6h3z" stroke="none"/>
<path d="M732.4 139.9V161.3" fill="none"/>
<path d="M732.4 164.3l-1.5 -4.6h3z" stroke="none"/>
<path d="M757.4 142.6V164.0" fill="none"/>
<path d="M757.4 167.0l-1.5 -4.6h3z" stroke="none"/>
<path d="M778.5 155.2V176.6" fill="none"/>
<path d="M778.5 179.6l-1.5 -4.6h3z" stroke="none"/>
</g>
</g>
</svg>
</body></html>
